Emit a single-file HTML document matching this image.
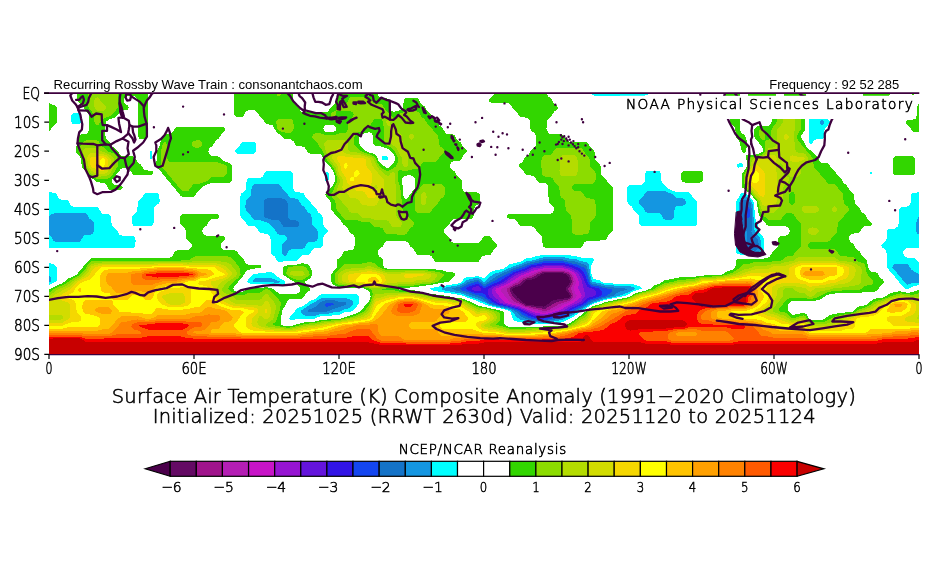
<!DOCTYPE html>
<html><head><meta charset="utf-8"><title>Surface Air Temperature Composite Anomaly</title>
<style>html,body{margin:0;padding:0;background:#fff;}.g{font-family:'DejaVu Sans',sans-serif;font-weight:200;stroke:#000;stroke-width:0.55px;}body{width:930px;height:580px;position:relative;overflow:hidden;}</style>
</head><body>
<svg xmlns="http://www.w3.org/2000/svg" width="930" height="580" viewBox="0 0 930 580" style="position:absolute;left:0;top:0">
<defs><clipPath id="mc"><rect x="49.0" y="93.2" width="870.0" height="261.2"/></clipPath></defs>
<g clip-path="url(#mc)" shape-rendering="crispEdges">
<path fill="#32d600" d="M77.2 93.2l70.4 0l0 40.9l0 1.7l-.9 2.2l-1.5 1l-4.5 .1l-1.5 -.6l-1.5 -2.7l-.2 -35.5l-1.3 -2.9l-1.6 -1.2l-1.5 -.5l-6 .2l-1.5 .9l-1.4 1.7l-.5 1.8l.4 1.8l1.2 1.8l2.4 1.7l1.3 1.8l-.8 1.8l-1.1 .7l-4.5 .3l-1.5 .5l-6 6.8l-6 2l-3 2.1l-.7 3.6l0 10.6l1.2 3.6l4 3.5l1.9 3.6l4.1 3.5l4.5 5.5l1.5 .5l10.5 .3l1.5 1l3.1 4.9l3 2.3l3 4.9l1.5 .9l6 .4l1.5 .6l.6 1.9l-.6 1l-1.5 1.1l-1.5 .1l-15.1 0l-1.5 -.5l-3 -4.9l-1.5 -1.2l-3 -.6l-3 0l-1.5 .5l-9.3 11.6l.3 1.7l1.5 2l1.5 .9l6 .4l1.5 1.3l.4 .8l-1 1.8l-2.4 .7l-9 0l-1.5 -.4l-1.5 -1.9l-1.5 -2.9l-1.5 -1.4l-1.5 -.5l-6 -.5l-2.2 -2l-6.1 -3.6l-3 -5.3l-3.2 -3.6l-.8 -1.7l-1.2 -8l-1.5 -2.4l-2.3 -2.1l-.9 -1.8l-.1 -1.7l1.3 -7.1l.2 -5.4l.6 -1.8l1.2 -1.1l6 -.5l1.5 -.6l1.4 -1.3l.9 -1.8l.4 -3.5l-.1 -10.7l-.4 -1.8l-4.3 -5.3l-2.4 -4.2l-3.6 -2.9l-1 -1.4l-.3 -7.5zM234.3 93.2l58.4 0l.1 7.1l1.1 2.9l4.5 4.2l2 3.6l2.5 1.5l1.5 0l22.6 -.2l7.5 -8.6l2.3 -3.4l.2 -7.1l28.4 0l1.8 1.8l1.9 .9l2.7 -.9l1.3 -1.8l4.2 0l.8 2.1l1.5 1.8l1.5 .7l6 .4l1.5 1.3l.7 2.6l.2 5.3l2.1 3.3l1.5 1.3l6 -1.4l3 -1.7l1.1 -1.5l.5 -7.1l1.4 -1.8l1.5 -.4l9 -.1l1.5 .2l1.5 1.1l2.7 4.6l3.3 2.6l2.6 4.5l3.5 2.7l2.4 4.4l3.6 2.8l2.4 4.3l3.6 3l3 4.9l1.5 .9l6 .5l1.5 .9l2.3 4l3.7 3.2l3 4.9l3.2 2.6l.3 1.7l-3.8 3.6l-2.7 4.5l-1.5 .9l-6 .5l-1.8 1.2l-1.1 1.8l-.3 1.8l.6 1.7l1.1 1.5l3 2.3l3 4.9l3 2.3l.9 1.5l.3 7.1l.5 1.8l1.3 1.8l1.5 1l1.5 .3l10.5 .2l1.5 .8l.9 1.2l.2 7.1l-1.1 2l-3.8 3.3l-1 3.6l-.1 5.3l-1.1 2.2l-1.5 .8l-1.5 .1l-13.5 0l-3.1 .5l-2.2 1.7l-2.2 4.1l-3.7 3l-.8 1.8l-.1 1.8l.7 1.8l4 3.5l2.9 4.8l3 1.2l22.5 0l1.5 -.4l1.5 -1l3 -4.9l1.6 -.8l4.5 0l1.5 .8l3 4.8l3.2 2.6l.5 1.8l-.7 1.1l-3.1 2.5l-2.9 4.8l-1.5 .7l-6.1 .6l-1.5 1l-3 4.9l-1.5 .8l-40.5 0l-1.5 -.5l-3 -4.9l-1.5 -1.2l-1.5 -.5l-10.6 -.1l-1.5 -.5l-3 -4.8l-4.2 -3.9l-1.9 -3.5l-2.9 -1.7l-18 .1l-2.3 1.6l-2.2 4l-3.7 3.1l-.8 1.2l-.6 2.3l.6 1.8l1.4 1.8l2.5 1.7l1.1 1.8l.2 5.4l.7 1.7l3.1 1.4l36 -.1l10.6 .6l7.5 .9l7.5 2l4.5 .2l1.5 1.1l.6 1l-.9 1.8l-2.7 2.1l-2.5 3.2l-2 .7l-6 .6l-12 2.6l-6.1 .2l-7.5 1.7l-15 .5l-3.1 .9l1.6 1l18 .9l7.5 2.2l16.6 2.5l6 .4l7 1.8l6.5 .5l8 3.1l10 4.7l19.3 4.2l5.4 1.8l.7 1.7l.3 10.7l1.7 1.8l2.7 .8l15 .2l39.2 -1l5.1 -1.8l6.8 -4.3l8.5 -6.4l3.8 -3.5l5.7 -3.8l6 -1.6l6.1 -2.5l24 -5l6 -3.7l11 -3l4.7 -1.7l3.8 -3.2l5.6 -2.2l5 -3.5l6 -.5l6 -1.7l18 -1l6 -1l19.6 -.6l2 -.6l4 -2.7l6 -2.1l2.7 -2.3l.7 -7.1l1.1 -.7l24 -.5l6 -1.1l2.5 -1.2l3.4 -5.4l4 -3.5l.7 -1.8l.4 -7.1l.8 -1.8l1.8 -1.1l4.5 -.1l1.8 -.6l1.9 -1.7l.8 -1.8l-.1 -1.8l-1.4 -2.4l-3 -1.4l-15.1 0l-3 -.8l-7.5 -9.2l-1.1 -2.2l-1.9 -12.4l-6 -7.4l-8.5 -6.8l-.4 -1.8l.3 -12.4l2.6 -3l2.5 -4.1l.1 -1.8l-.9 -5.4l.1 -3.5l1.2 -1l7.5 .4l3 -.7l4.5 -2.2l.5 -1.8l-.5 -2l-1.5 -2.5l-6.6 -8l-.7 -3.5l0 -3.6l.6 -1.8l2.2 -2l4.5 -1.4l6 1.2l1.5 -.4l2.4 -2.7l.8 -1.8l.1 -1.7l-.2 -5.4l-.7 -1.8l-1.7 -1.7l-2.2 -.8l-10.5 -.2l-1.6 -.8l-2.9 -4.8l-3 -2.2l-1.2 -1.9l-.2 -7.1l28.2 0l.1 7.1l1.2 1.8l2 .9l1.5 -.1l1.5 -.8l1.5 -1.8l.3 -7.1l22.1 0l0 12.4l-1 8.9l-.1 14.2l-.5 1.8l-3.6 5.3l0 1.8l3.7 5.4l1.7 3.5l1.4 1.8l4.5 3.3l5 5.6l2.5 4.4l1.5 1.2l1.5 .5l4.5 .1l1.5 .6l3 4.8l3.3 2.6l2.8 4.6l3.2 2.5l2.8 4.7l3 2.4l3 4.9l3 2.3l1.3 1.7l.4 7.1l1.3 3.3l3 2.4l3.1 5l2.9 2.2l3 4.9l3.9 3.5l0 1.8l-.9 1l-6 .6l-1.5 .6l-1.5 1.3l-1.9 3.6l-1.1 1.2l-6 .6l-1.5 .5l-1.5 1.3l-.9 1.7l-.2 1.8l1.1 2.3l3.6 3l2.4 4.3l3.5 2.8l2.5 4.4l3 2.3l1.5 1.8l1.9 7.5l1.7 3.6l.9 1l6 .7l1.5 1.7l1.5 3l3.1 2.5l1.2 1.7l-.7 1.8l-3.6 3.1l-2.3 4l-2.2 1.1l-10.5 .1l-4.5 1.5l-3 .3l-22.5 .1l-4.6 .6l-4.5 1.5l-4.7 3.7l-8.8 2l-10.5 -.6l-10.2 .4l-2.6 1.8l-.8 1.7l0 5.4l.9 1.8l2.2 2.5l1.5 .8l7.5 -1.7l4.5 -.2l1.5 .8l3 4.8l1.5 1.1l10.5 .2l3 -.9l4.5 -3.7l3 -1.1l7.6 -1.4l13.5 -1.2l4.5 -4.6l1.5 -.7l6 -1.1l1.5 -.7l6 -4.9l4.5 -1.5l6 -.6l3.8 -1.9l2.2 -1.9l3.1 -1.2l7.5 -1.4l7.5 1.4l3 -.2l9 -2.4l0 64.3l-870 0l0 -64.6l4.5 -2.7l8.7 -3.8l2.8 -1.8l3.5 -3.2l4.5 -1.7l3.8 -2.2l10.3 -12.4l4 -4l3 -.4l75.1 0l1.5 -.4l1.5 -1.1l2.9 -4.8l1.6 -.8l10.5 -.1l1.5 -.4l2.4 -2.2l.6 -1.8l-.2 -1.8l-1.3 -2l-3.7 -3.3l-.9 -8.9l-1.4 -2.3l-3.5 -3l-.7 -1.8l0 -5.3l1.2 -2.6l1.5 -.8l33.1 0l1.5 .1l1.5 .7l.6 .8l-.6 2.3l-1.5 .7l-6 .6l-2 1.7l-2.5 4.3l-3.5 2.8l-.8 1.8l-.1 1.8l1.4 2.6l3 1.5l15 .1l3 .7l.7 2.2l-3.7 3.4l-1.1 1.9l-.2 1.8l.6 1.8l1.6 1.8l2.1 .7l10.5 .2l1.5 .6l3 4.8l3.3 2.5l2.7 4.8l1.5 1.2l1.5 .4l10.6 .2l1.6 .6l.8 1.7l-.9 .6l-9.1 .9l-4.5 1.4l-1.5 1.3l-2.8 4.7l-9.1 10.7l-.9 1.8l1.2 1.7l2.6 1.5l6 -.2l4.4 -3l1.6 -.6l10.6 .2l7.5 -1.2l6.3 1.6l5.7 5l18 .1l2.3 -1.6l1 -1.8l.3 -1.7l-.7 -1.8l-5.8 -5.4l-6.1 -3.4l-4.9 -3.7l-.4 -3.5l.5 -3.6l1.8 -1.1l4.5 -1.3l7.5 -.4l6 -1.3l4.5 1.1l2 1.3l2 3.5l.9 5.3l-.6 1.8l-1.2 1.6l-5 3.7l-.1 1.8l1 1.8l2.5 1.8l1.3 1.8l-.5 1.7l-3.8 3.3l-3 4.5l-1.5 .5l-10.5 .1l-1.5 .6l-1.5 1.4l-5.3 9.2l-1.9 8.9l.2 5.3l2.5 1.8l7.5 .3l10.5 -3.4l7.5 -1.1l6.1 -.2l6 -1.8l18.3 -.9l13.2 -4l6.9 -3.1l2.3 -1.8l7.4 -9.2l1.5 -4.4l-.3 -2.4l-.8 -1.8l-1.7 -1.8l-2.9 -1.7l-1.9 -.5l-15 -.5l-9.6 -.8l-4.5 -1.8l-1.9 -1.8l-.9 -1.8l.1 -7.1l5.5 -7.1l.8 -7.8l4.5 -4.2l1.5 -3l1.5 -1.6l6 -.4l1.6 -.7l1.6 -1.8l.9 -3.6l0 -5.3l-1.1 -3.1l-4.4 -4l-1.8 -3.6l-4.2 -3.5l-2.5 -3.6l-9.3 -10.6l-.7 -1.8l-.6 -7.1l-4.5 -5.3l-.6 -1.8l7.6 -9.6l2.2 -4.6l-1 -7.1l-1.2 -2.8l-4.9 -6.1l-3.7 -3.6l-3.4 -6.4l-1.5 -.6l-10.6 -.2l-1.5 -1.4l-1.5 -3l-1.5 -1.8l-1.5 -.7l-6 -.4l-1.6 -1.5l-1.9 -3.5l-2.4 -1.8l-6.1 -.4l-3.2 -3.2l-5.2 -3.5l-3.6 -6.9l-1.5 -.7l-4.5 -.3l-1.5 -1l-1.9 -3.5l-4 -3.6l-1.9 -3.6l-1.7 -1.7l-2.5 -.9l-4.6 .1l-1.5 .5l-1.5 1.2l-3 4.8l-1.5 .6l-3 .1l-1.5 -.2l-1.4 -.9l-1 -1.8l-.1 -1.8l0 -19.5zM327.0 124.7l-1.5 .7l-1.5 1.5l-.6 1.8l.7 1.8l1.4 1.1l1.5 .7l6 -.1l2.8 -1.7l.7 -1.8l-.6 -1.7l-1.4 -1.5l-1.5 -.8l-6 0zM369.1 132.2l-6.1 1.7l-2.8 1.9l-.9 1.8l-.2 1.8l.1 3.6l.6 1.7l2.9 3.6l4.3 3.5l8.1 2.4l1.5 1.5l1.9 5l2.6 3.5l6 4l1.5 -.4l4 -3.5l2.4 -3.6l.5 -1.8l-1.2 -3.5l-2.7 -3.7l-4.5 -3.3l-6 -1.9l-6 -.5l-1.2 -1.3l-.6 -1.7l-.4 -7.2l-.8 -1.7l-1.5 -1.5l-1.5 -.4zM403.6 176.5l-1.5 1.9l-.5 1.9l1.4 7.1l.1 7.1l.5 1.9l1.5 2.4l1.5 .1l1.5 -1.2l1.7 -3.2l4.3 -5l1.2 -2.1l.1 -7.1l-1.3 -3l-1.5 -1.3l-1.5 -.5l-4.5 0l-3 1zM493.4 95.0l.6 -1.8l52.5 0l1.4 3l3 2.3l3 4.9l3 2.4l1.1 1.6l-.7 1.8l-3.4 2.8l-2.5 4.3l-3.5 2.9l-1.2 2.4l-.2 7.1l1.4 3.8l1.5 1.2l1.5 .6l10.5 .1l1.5 .5l3 4.7l1.5 1.3l1.5 .6l16.5 .1l1.5 .4l1 1l2 3.7l3.9 3.4l.8 1.7l.4 7.1l.7 1.8l3.9 3.6l1.1 1.8l.2 7.1l.6 1.7l1.4 1.8l2.5 1.8l3.4 5.3l2.5 1.8l1.3 1.8l.3 1.8l-.1 40.8l-.5 1.8l-4.1 3.5l-1.8 3.6l-1.4 1.5l-18.1 .4l-2.7 1.7l-1.9 3.5l-1.4 1.6l-1.5 .3l-34.5 -.1l-2 -1.8l-1.1 -9.2l-1.5 -2.2l-3 -2.3l-3 -4.9l-3 -1.2l-10.5 -.2l-1.5 -.9l-2.2 -4l-2.2 -1.7l-6.1 -.7l-1.7 -1.1l.2 -2.3l1.5 -1l1.5 -.1l40.6 -.3l2.2 -1.6l.9 -1.8l.2 -1.8l-.7 -1.8l-4 -3.5l-.9 -1.8l-.3 -14.2l-.6 -1.8l-1.3 -1.8l-1.5 -.8l-6.1 -.5l-.8 -.5l-3.6 -5.3l-1.6 -1l-6.6 -.8l-1.7 -1.7l-2 -3.6l-2.4 -1.8l-1.3 -1.7l.7 -1.8l2.8 -2.2l3 -4.9l3 -2.3l2.9 -4.8l3.1 -2.5l1.8 -2.9l.3 -5.3l-.4 -3.6l-1.7 -2.7l-3.1 -2.6l-.7 -1.8l-.4 -7.1l-.8 -1.7l-2.5 -2.2l-6 -.5l-1.5 -.9l-3 -4.9l-3 -2.3l-3 -4.9l-1.5 -1l-16.5 -.4l-2.8 -.7l-1 -1.8l.8 -1.3l3 -2.4l1.1 -1.6zM723.7 93.2l16 0l.1 35.5l1.2 3.6l4.1 3.5l1.1 2.2l1 5l-1 7.3l-1.5 3l-1.5 -.4l-1.5 -2.1l-2.3 -9.6l-2.9 -3.6l-.7 -1.8l-.4 -7.1l-.7 -1.7l-3.5 -3l-1.4 -2.4l-.3 -14.2l-1.3 -2.8l-3 -2.3l-1.4 -2l-.1 -7.1zM862.6 93.2l28 0l-1.2 1.8l-3.5 2.8l-1.5 3l-1.5 1.7l-4.5 .4l-13.5 -.2l-2.1 -2.4l-.2 -7.1zM911.1 93.2l3.7 0l-1.8 2l-1.9 -2zM49.0 103.9l0 -.8l6.2 2.5l1.5 1.8l.3 5.3l0 7.2l-.5 2.8l-4.4 4.3l-1.9 3.5l-1.2 1.1l0 -27.7zM918.6 103.9l.4 -.6l0 28.6l-6 -.3l-1.3 -1.1l-1.8 -3.5l-4 -3.6l-.3 -1.8l1.4 -1.5l6 -.4l2.5 -1.6l1.4 -3.6l.2 -7.1l1.5 -3.5zM174.5 128.7l2.2 -1.5l1.5 -.1l43.6 0l1.5 .1l1.5 .7l.6 .8l-.1 1.8l-3.5 3l-3 4.9l-3 2.3l-3 4.9l-3.3 2.7l-.9 1.8l-.2 1.7l.7 1.8l2.2 2l6 .6l1.5 .6l4.1 3.9l6.4 2.2l1.8 1.4l1 1.8l.2 1.7l0 10.7l-.2 1.8l-1.3 1.7l-1.5 .6l-15 .1l-3 .4l-6 1.9l-1.5 1l-3 3.2l-3 2.2l-3 4.9l-1.6 .8l-9 .1l-3 -.8l-21 -25.6l-3.2 -3l-1 -1.7l.8 -7.2l.1 -7.1l.4 -1.7l2.6 -5.4l1.8 -7.5l1.5 -2.2l1.5 -.6l6 -.6l1.9 -1.5l1.9 -3.6zM893.9 157.2l1.1 -.9l1.5 -.2l16.5 .3l1.8 2.5l.2 12.5l-.5 2.2l-1.5 1.6l-1.5 .2l-15 0l-2 -.5l-1.4 -1.7l-.2 -1.8l.1 -12.5l.9 -1.7zM682.7 171.4l1.9 -.7l16.5 .1l1.5 1.1l.7 1.3l0 7.1l-1.4 1.7l-2.3 .7l-13.5 0l-3 -.4l-1.6 -2l-.1 -1.8l.1 -5.3l1.2 -1.8z"/>
<path fill="#8cdc00" d="M88.3 93.2l30.2 0l-.3 14.2l-5.9 7.1l-3.1 1.8l-5.2 1.8l-2.2 1.8l-3.2 4.9l-1.5 .6l-1.5 -1.1l-1.2 -2.7l-.2 -5.3l-.4 -1.8l-5.3 -7.1l-.2 -14.2zM275.7 93.2l5.8 0l-1.1 2.1l-1.5 1l-1.5 -.5l-1.7 -2.6zM349.2 98.5l1.8 -1.5l10.5 -.2l9.1 2.8l1.2 .7l1.8 2.4l1.5 1.1l6 .4l1.5 .9l3 4.7l7.5 8.1l1.5 -.3l3 -3.1l7.5 -2.7l3 -.5l9 .2l2.1 1.2l2.4 4.1l3.5 3.1l2.6 4.2l3.3 2.9l2.7 4.3l3.2 2.8l1.3 1.7l.9 8.9l1.2 1.8l2.4 1.8l1.3 1.8l.2 1.7l-1 1.8l-3.5 3.1l-3 4.6l-1.5 .7l-10.6 .2l-1.5 .3l-1.5 1.4l-2.3 3.9l-2.2 1.5l-4.5 .1l-7.5 1.7l-6 -1.2l-.8 1.5l-.3 8.9l2.4 7.1l.4 8.9l1.6 7.1l.1 5.3l1.1 2.6l3.2 2.7l2.8 4.5l3.1 2.6l1.2 1.8l0 1.8l-1.2 1.8l-3.1 2.6l-2.8 4.5l-1.7 1l-18 -.2l-1.5 -1.2l-3.3 -5l-1.2 -.6l-6 -.4l-4.4 -4.3l-1.6 -.7l-6.1 -.2l-6 -1.7l-10.5 -.1l-1.5 -.4l-7.8 -9.3l-1 -1.8l-.8 -7.1l-4 -5.3l-.7 -1.8l2.3 -3.6l4.5 -10.6l-2.3 -8.9l-2.2 -4.1l-6.9 -8.4l-5.1 -10.8l-1.6 -1.6l-2.9 -4.8l-3 -2.5l-1.1 -1.6l0 -1.8l1.1 -1.6l1.5 -.9l4.5 -.2l7.5 2.2l6 0l3 -.6l3 -1.4l6 -.4l1.5 -1l1.5 -3.2l.4 -7.1l1.1 -1.7l3.8 -3.6l.4 -1.8l-.9 -1.8l-1.8 -1.2l-1.5 -.2l-13.5 -.2l-.1 3.4l-.7 1.8l-2.2 1.9l-2.2 -1.9l-.1 -1.8l2.3 -2.8l3 -.7l.6 -3.6l2.4 -2.9l6.1 -.6l2.1 -1.8l2 -3.6zM375.1 118.9l-1.5 1.1l-3 4.8l-4.3 3.9l-2.6 1.8l-5.4 1.8l-2.8 2.1l-1.3 3.2l.3 7.1l1.2 1.8l3.5 3.6l3.2 1.7l9.8 3.6l2.9 1.7l2.3 5.4l2.2 3.2l3 2.9l4.5 2.6l1.5 -.4l7.5 -4.4l1.5 -3.8l.5 -3.7l-2 -5.3l-2.2 -3.5l-3.8 -3.1l-4 -2.3l-1.6 -1.7l-.2 -12.5l-1.7 -8.9l-.8 -1.7l-.7 -1l-1.5 -.3l-4.5 .3zM783.1 105.6l3.7 -1.4l4.5 0l1.5 .4l7.5 8.8l.9 2.9l0 10.7l-.2 1.7l-3.9 7.1l0 1.8l.6 1.8l4.9 7.1l6.7 6.9l2.7 3.8l1 1.7l.8 7.8l1.5 2l3 2.5l2.1 3.7l3.9 3.5l3 4.7l1.5 .7l6.1 .5l1.5 1.3l3 4.7l2.9 2.4l.9 1.8l.4 7.1l.6 1.8l3.8 3.5l1 1.8l-.6 2.4l-3.3 2.9l-2.7 4.5l-3.2 2.6l-1.3 1.8l-.9 8.9l-1.2 1.8l-3.8 3.5l-2.1 3.6l-2.6 1.2l-16.5 .1l-1.5 .7l-1.3 1.5l-.2 2.2l1.5 2l1.5 .7l22.6 .1l1.5 .4l1.5 1.3l2.8 4l1.7 1.3l12 .6l3.3 3.4l2.7 1.6l4.5 1.4l1.5 1.6l1.9 7.9l1.1 2.6l1.5 2l3 2.4l.9 1.8l-.5 1.8l-1.9 1.9l-6 .5l-3.1 3l-2.9 1.6l-24 .3l-9.1 2.3l-9 4.6l-6 1.8l-7.5 -1.5l-10.5 -.1l-3 .5l-2.7 1.1l-1.8 1.7l-7 9l2 1.8l5 .8l1.5 .9l4.5 4.4l1.5 .4l10.5 -3l1.5 .3l4.5 5.5l1.5 1l12 0l4.4 -1.5l4.6 -2.7l4.6 -1.9l6 -1.3l10.5 -1.4l2.9 -1.5l3.1 -2.4l6 -1.8l4.5 -2.1l6 -4.4l7.5 -1.7l12.1 -4.7l6 -1.3l12 1.4l6 -1.6l0 61.2l-870 0l0 -61.5l5.4 -4.2l11.1 -4.8l5.6 -4.1l9.5 -5.4l4.5 -5.2l3.4 -5.4l2.6 -2.3l1.5 -.3l12 -.5l82.6 -.2l2 -.3l4 -3.2l1.6 -.5l33 0l3 .4l7.5 8.7l1.6 3.5l.7 5.3l-2.4 3.6l-6.3 5.3l-2.8 3.6l-1 1.8l1.3 1.7l5.9 3.9l1.5 .6l3 .1l4.5 -.4l4.5 -1.7l10.6 -.3l1.5 -.6l3 -2.3l3 -.9l3.5 1.6l9.6 10.7l1.1 1.8l-1.7 8.9l-3.1 8.8l-1.9 2.3l-2.1 1.3l2.1 1.2l12 2.2l4.5 -.1l15 -3.8l9.1 -.6l6 -1.7l19.5 -1.7l10.7 -2.6l5.2 -1.8l6.6 -3.3l2.2 -2l3.9 -4.7l3 -7.8l.5 -3.5l-.4 -3.6l-2.9 -1.7l-6.3 -1.8l-13.5 -.6l-10.5 -1.4l-2.9 -1.6l-1.4 -1.8l.1 -7.1l2.7 -3.7l7.5 -6.8l16.5 -.2l7.6 -1.7l3 .4l3 1.2l4.1 3.7l7.9 3.1l36 -.4l10.6 1.1l6.6 1.6l3.5 1.7l0 1.8l-5.6 5.3l-9 2.5l-6.1 .1l-12 1.8l-12 .1l-6 2.1l-10.5 .6l-.9 1.7l3.9 -.8l6 0l7.5 2l16.5 .5l13.6 3.2l6 .4l6 1.2l6 .2l6 1.7l7.5 .6l7.5 3.1l9 4.8l7.6 .8l13.7 3.7l1.4 1.7l.5 5.4l-.6 1.8l-1.4 1.7l-2.4 1.8l.8 .9l6 1.4l6 2l15 .1l37.6 -1.5l5.9 -1.1l4.2 -1.8l9.4 -7l3 -1.7l4.9 -5.5l4.1 -2.7l6 -1.6l6.1 -2.5l24 -5l7.5 -4.1l16.5 -4.7l12.1 -6.6l6 -.5l6 -1.8l6 -.3l6 -1.4l6 -.2l6 -1.7l19.6 -.7l7.1 -1.8l4.9 -1.8l7.7 -5.3l2.8 -3.1l1.5 -.4l4.5 -.2l6 -1.6l12 -.1l13.6 -1.1l1.4 -.6l3.1 -3.1l1.5 -.6l4.5 -.2l1.5 -.8l3.1 -4.2l4.4 -4.2l.6 -1.1l.3 -3.5l0 -16l-.5 -3.6l-4.9 -5.1l-2.3 -3.8l-2.2 -1l-4.5 0l-1.5 .6l-4.3 5.8l-1.7 .7l-9.1 .1l-1.5 -.2l-1.5 -1l-6 -5.4l-.8 -1.3l-1.1 -3.6l-1.1 -7.1l-1.2 -1.8l-6.3 -7.4l-5.7 -5l-.4 -1.8l-.4 -7.1l.4 -5.3l4.2 -7.1l.4 -7.8l1.5 -1.3l6 -.9l4.5 -1.4l2 -1.1l1.6 -1.8l.5 -3.5l-.4 -7.1l.8 -.8l3 -.7l1.5 -1.7l.7 -2.2l.2 -5.3l.8 -1.8l5 -7.1l.2 -12.4l.6 -1.8l5.4 -1.8zM791.3 191.9l-1.9 2.6l-.2 7.1l.6 1.8l1.5 1.5l1.5 .1l1.5 -1.4l.7 -2l.1 -5.3l-.2 -1.8l-1.1 -1.8l-1 -.9l-1.5 .1zM277.1 119.9l1.8 -1.2l3 -.1l7.5 0l1.5 .3l1.3 1l1.1 1.7l.4 3.6l-.1 3.5l-1.2 2.9l-1.5 1.2l-4.5 .3l-7.5 -2.4l-1.4 -2l-1.2 -5.3l-.2 -1.8l1 -1.7zM760.9 128.7l2.1 0l1.7 1.8l.2 8.9l-.7 .9l-1.5 -.2l-1.5 -1l-2.1 -3.3l0 -5.3l1.8 -1.8zM84.2 141.2l2.4 -.8l10.5 .1l1.5 .8l3.9 5.2l3.6 3.6l2.5 1.7l5.2 1.8l3.4 3.6l1 1.7l.3 1.8l-.1 3.6l-.5 1.8l-5.3 8.8l-3.5 3.4l-6 .8l-6 -.3l-6 -2.9l-1.5 -1.4l-5.3 -8.4l-2.2 -9.5l-3.4 -4.8l-.2 -1.7l.6 -1.8l5.1 -7.1zM193.0 141.2l3.3 -.8l3 0l1.5 .6l1.6 2l.1 1.7l-1.1 1.8l-2.1 1l-4.5 0l-1.6 -.5l-1.7 -2.3l.1 -1.7l1.4 -1.8zM163.1 143.0l1.6 -1.6l1.5 1.6l.5 1.7l.4 14.2l2.1 2.7l3 .5l45.1 .1l7.5 2.6l2 1.3l.4 1.7l-.2 5.4l-.9 1.7l-1.3 1.2l-1.5 .5l-10.5 .1l-1.5 .6l-2.6 3l-1.9 1l-7.5 2.5l-4.5 .2l-1.6 .5l-4.5 6l-1.5 .6l-4.5 -.1l-2.2 -1.8l-19.2 -23.1l-.5 -3.6l.1 -10.7l2.2 -8.8zM743.2 143.0l0 1.7l0 -1.7zM555.8 148.3l2.6 -.7l22.5 .3l1.5 1.2l2.8 4.5l3.8 3.6l.6 1.7l.4 7.2l1.4 2.3l3 2.4l1.2 2.4l0 7.1l-1.2 2.2l-1.5 1.1l-18 .4l-2.2 1.6l-.8 1.8l1.5 2.8l1.5 .8l6 .5l1.6 1.2l2.9 4.7l1.5 .9l6 .4l1.5 1.1l1.1 1.8l.2 14.2l-1.3 2.9l-3 2.5l-1.2 1.7l-.9 8.9l-.9 1.4l-1.5 1.2l-10.5 .3l-1.5 -.1l-1.6 -1l-1.3 -1.8l-.3 -1.8l-.2 -12.4l-.3 -1.8l-1.2 -1.8l-3.8 -3.5l-.6 -1.8l-.3 -7.1l-1.1 -1.8l-2.8 -2.3l-1.5 -2.3l-.6 -7.8l-.9 -1.8l-3.9 -3.6l-2 -3.5l-1.6 -1.5l-6 -.5l-1.5 -.7l-1.8 -2.6l-.2 -12.5l.7 -3.5l1.3 -1.5l1.5 -.7l6 -.5l1.5 -1.3l1.7 -3.1l1.7 -1.8zM421.7 185.6l1.4 -1.3l1.5 -.4l16.6 .1l1.5 .7l1.8 2.7l.1 7.1l-.7 1.8l-3.9 3.5l-2 3.6l-3.9 3.5l-3.4 5.2l-1.5 .7l-9.1 .1l-3 -.4l-1.5 -1.3l-1 -2.5l0 -12.4l.5 -1.8l6.6 -8.9zM288.4 267.3l2.5 -.7l12 -.5l2.6 1.2l1.9 2.1l1.5 2.3l.7 2.7l-1.4 1.8l-5.3 3.5l-6 .2l-6 -2.2l-2.5 -1.5l-1.8 -1.8l-.2 -1.7l.7 -3.6l1.3 -1.8z"/>
<path fill="#b4dc00" d="M95.4 98.5l1.7 -1.2l1.5 .6l3 4.6l3.6 3.1l.8 1.8l-.5 1.8l-.9 1.1l-1.5 .9l-4.5 .1l-1.5 -.5l-1.5 -1.6l-1.1 -1.8l-.2 -1.8l.2 -5.3l.9 -1.8zM784.5 112.7l2.3 -1.3l4.5 .1l1.5 .8l1.8 2.2l.5 1.8l0 10.7l-1.4 10.6l1.4 7.1l.2 5.4l1 1.7l1 .6l1.5 .5l4.5 .2l1.5 .6l3 3.3l.7 1.9l-.4 1.8l-1.2 1.8l-5.4 3.6l-.5 7.1l-.9 1.7l-1.3 1.2l-1.5 .5l-7.5 0l-1.6 -5.2l-1.4 -1.4l-3 -.6l-1.6 -5.1l-1.4 -1.2l-1.5 1.2l-.4 1.8l.4 1.1l1.5 1.8l2.3 .6l.2 3.6l.9 1.7l1.1 1l1.5 .6l2.3 .2l-.1 3.6l-.9 1.7l-3.9 3.6l-.9 1.8l-.3 14.2l-.7 1.8l-7.5 8.9l-1.6 .5l-4.5 0l-6 -1.8l-.4 -.5l-1.2 -1.8l-1.5 -7.1l-.9 -1.8l-3.5 -3.5l-3 -4.4l-5.2 -4.5l-.6 -1.8l-.8 -5.3l.3 -5.4l1.2 -3.5l3.4 -5.3l1.2 -5.4l1.3 -1.8l11.2 -3.8l1.6 -1.5l2.9 -5.6l4.5 -.5l1.6 -.5l1.5 -1.7l.7 -2.3l.1 -12.5l.7 -1.8l4.6 -5.3l.6 -1.8l.4 -7.1l1.1 -1.8zM386.9 119.9l.2 -.3l1.5 .7l1 1.3l.7 3.6l4.3 1.6l3 4.7l3.1 2.6l1.2 1.7l1 8.9l1.2 1.8l3.7 3.6l.6 1.7l0 12.5l-.7 1.8l-1.1 .7l-1.5 .3l-1.9 -1l-.7 -1.8l-.2 -5.4l-.6 -1.7l-2.6 -3.6l-3 -6.3l-4.1 -2.6l-1.4 -1.7l-.2 -16l-.3 -1.2l-1.5 -.1l-1.5 -.9l-.9 -3.2l.7 -1.7zM410.5 134.1l.6 -.5l1.5 .5l1.3 1.7l0 1.8l-1.3 1.8l-1.5 .4l-2 -2.2l0 -1.8l1.4 -1.7zM325.9 141.2l1.1 -.7l1.5 -.1l16.5 .1l1.5 1.1l1 1.4l.5 1.7l.3 5.4l1.7 1.7l7 .6l6 1.6l8.6 3.2l2 1.7l2.3 5.4l2.2 3.6l1.5 1.8l7.5 6.2l1.5 -.3l2.1 -2.4l2.4 -1.4l1.5 1.2l.5 9l1.3 7.2l.1 26.6l1.1 2.8l3.1 2.5l1.1 1.8l0 1.8l-1.2 1.8l-1.5 .8l-1.5 .1l-4.5 -.3l-1.5 -1.2l-3 -4.7l-1.5 -.9l-10.5 -.1l-6 -1.7l-7.6 -.4l-1.5 -.8l-3 -3.3l-1.5 -.9l-6 -.4l-1.5 -1.1l-2.9 -4.7l-3.1 -2.5l-2.8 -4.6l-3.2 -3.3l-1.1 -2l1.3 -7.1l2.2 -5.4l.3 -1.7l-2.7 -5.4l-1.8 -7.1l-1.2 -2l-5.4 -6.9l-3.3 -7.1l-1.5 -7.1l.2 -1.7l1.4 -1.8zM84.9 148.3l1.7 -.6l10.5 .2l3 2.5l10.5 5l2.3 1.8l.9 1.7l-.1 7.2l-3 7.1l-1.6 1.6l-4.5 1.6l-6 .2l-3 -.8l-4.5 -2.2l-4.5 -7.5l-1.5 -4.9l-2.1 -9.4l.4 -1.7l1.5 -1.8zM562.1 155.4l2.3 -.5l9 0l1.8 .5l1.7 1.8l.7 3.5l-.1 12.5l-1.1 1.9l-1.5 1.2l-12 .2l-2.3 -1.6l-.9 -1.7l-.2 -1.8l.1 -12.5l.7 -1.7l1.8 -1.8zM422.5 192.7l.6 -.7l1.5 .1l1.6 1.9l.4 2.3l-.4 6.4l-1.6 2l-1.5 .4l-1.5 -1.2l-.9 -2.3l-.1 -5.3l.4 -1.8l1.5 -1.8zM802.7 206.9l2.1 -1.1l10.5 -.1l1.5 .4l1.5 1.6l.5 1l-.2 1.8l-1.5 1.8l-1.8 .6l-10.5 -.1l-1.5 -.6l-1.4 -1.7l-.2 -1.8l1 -1.8zM833.0 206.9l1.9 -.7l1.5 1.3l.6 1.2l-.3 1.8l-1.8 1.9l-1.5 -.4l-1.3 -1.5l-.2 -1.8l1.1 -1.8zM809.2 228.2l3.1 -.8l4.5 .5l1.9 2.1l.1 1.8l-2 2.4l-1.5 .4l-4.5 0l-1.9 -1l-1.1 -1.8l.1 -1.8l1.3 -1.8zM798.7 256.7l34.7 -.2l6 4l13.5 1.7l8.3 5.1l.4 1.8l-.2 12.4l-2.5 3.3l-1.5 .6l-4.5 .2l-6 1.6l-12 .7l-6.1 2l-10.5 1.9l-1.5 .7l-3.4 3.3l-2.6 1.1l-1.5 -.1l-2.2 -1l-2.3 -2.2l-1.5 -.7l-4.5 -.3l-1.5 -.6l-4.5 -3.6l-4.5 -.4l-3 .4l-2.1 2l-.3 5.4l-.9 1.7l-7.2 8.9l-2.4 3.6l1.2 1.8l5.7 2.4l6 1.8l3.7 2.9l2.3 1l3 0l9 -2.4l1.5 .5l4.5 5.2l1.5 1l13.5 0l4.5 -1l7.8 -4.3l4.2 -1.8l13.6 -3l4.5 -2.4l10.5 -3.9l7.5 -5.2l6 -1.6l6 -2.5l4.6 -1.4l7.5 -1.8l6.3 .5l5.7 1.6l6 -.7l0 57.7l-870 0l0 -58l7 -6l11 -4.9l7.8 -5.7l7.3 -4.1l3.2 -3l3 -5.4l2.8 -3.2l4.5 -1.1l9 -.7l45.1 0l10.5 -.4l27 .3l9.1 -1.4l19.5 .2l7.5 .7l4.5 1l3 1.8l3.9 4.6l2.1 3.1l.6 2.2l-2.1 2.5l-7.2 4.6l-2 1.8l-4.2 5.4l.5 1.7l2.4 2.6l6 2.1l6 4.7l1.5 .2l21.1 -.1l1.5 -.6l4.5 -5.1l1.5 -.6l6.6 7.5l2 3.5l0 5.4l-2.1 8.9l-2 1.7l-5.8 3.6l.8 1.8l5 1.3l7.5 .4l6 1l6 0l18 -3.9l6.1 -.2l9 -2.1l15 -1.5l17.9 -3.9l6.1 -2.6l3 -2.1l2.3 -2.4l2.3 -3.9l4.5 -12l1.5 -.6l4.5 .9l6 -1.6l4.5 -.1l21 .5l4.5 .7l12.1 3l6 .4l6 1.1l6 .2l6 1.5l7.5 .6l5 2.2l11.5 6.4l1.5 .3l4.5 -.4l3.1 .5l7.1 2.1l1.9 1.5l1.8 3.8l-.2 1.8l-1.6 1.9l-4.8 3.4l-.3 1.8l5.1 1.3l6 .7l7.5 2.2l15 0l9 -.8l28.6 -1.4l7.5 -1.4l5.8 -2.4l6.2 -4.8l4.5 -2.2l1.5 -1.6l1.9 -3.8l1.6 -1.8l2.5 -1.7l6 -1.4l6.1 -2.4l10.5 -2.7l13.5 -2.6l6 -3.3l3 -1.2l16.3 -4.3l10.8 -5.7l6 -.7l6 -1.5l6 -.3l6 -1.4l6 -.3l6 -2.4l18.1 -.7l13.5 -2.6l4.5 -1.7l6 -3.5l7.5 -1.5l4.5 -2.2l12 -.4l6 -1.6l7.6 -.4l6 -1.7l6 -.9l1.5 -.7l4.4 -3.5zM365.6 267.3l3.5 -1.5l16.5 5.8l3 .6l10.5 -.1l7.5 -.8l18 .1l7.5 1.3l4.6 1.5l.6 .2l-.1 1.8l-2.8 3.6l-2.4 1.7l-1.3 .5l-12.1 .7l-7.5 1.5l-12 .1l-6 1.1l-6 .3l-12 2.9l-12.1 -2.8l-7.5 -.2l-10.5 -1.4l-4.5 -1l-2.7 -1.7l-.3 -3.5l.4 -3.6l1.5 -1.7l5.6 -3.4l6 -.8l12 -.4l2.6 -.8zM290.1 272.7l.8 -1.3l1.5 -.4l9 0l1.5 .5l1.2 1.2l.8 1.7l-2.8 1.8l-5.2 .1l-6 -1.1l-1 -.8l.2 -1.7z"/>
<path fill="#d2dc00" d="M785.0 134.1l1.8 -.3l1.7 2l0 1.8l-1.7 2.1l-1.5 -.1l-1.6 -2l0 -1.8l1.3 -1.7zM338.4 148.3l.6 -.3l1.5 .8l2.6 3l3.4 1.8l4.5 1.2l6 .1l6 .9l4.1 1.4l3.2 1.7l2.3 7.2l7 9.1l3.2 3.3l1.3 1.8l.2 1.7l-.1 5.4l-.8 1.8l-3.2 3.5l-1.8 8.9l-1.8 3l-1.5 .9l-1.5 .2l-10.6 -.3l-1.5 -1.1l-2.7 -4.5l-1.8 -1.2l-6 -.4l-1.5 -1.1l-2.7 -4.4l-3.9 -3.5l-.6 -1.8l1 -7.1l-1.3 -2.5l-3 -3.5l-1.5 -8.2l-1.5 -2.7l-3.8 -4.5l-.3 -1.7l1.1 -2.4l4.5 -6l.9 -.5zM375.1 184.9l-.9 2.5l.9 1.3l1.5 .1l1.3 -1.4l-1.3 -2.4l-1.5 -.1zM89.9 153.6l1.2 -.4l4.5 -.2l7.5 1l3 1.2l3.1 2l1.5 1.7l.2 5.4l-.9 3.5l-2.4 4l-1.8 1.4l-2.7 .9l-4.5 0l-3.5 -.9l-4 -2.8l-2.5 -4.3l-1.6 -7.2l.9 -3.5l2 -1.8zM768.4 155.4l3.3 -.5l3.1 .6l1.5 1.7l.4 1.7l-1.2 7.2l1.5 8.8l0 24.9l-.2 1.8l-1 1.8l-2.6 2.1l-9 .2l-1.5 -.6l-3.2 -7.1l-4 -3.5l-2 -3.6l-4.4 -3.5l-1.5 -3.6l-.6 -5.3l.7 -5.3l4.5 -6.5l3 -5.6l4.1 -2.2l6.4 -1.9l2.7 -1.6zM792.8 155.4l4.5 1.2l6 .3l1.6 2l-1.6 1.3l-4.5 1.5l-6 .3l-2.3 -1.3l-1 -1.8l.4 -1.7l1.4 -1.6l1.5 -.2zM796.4 262.0l2.4 -.8l6 -.3l30.1 .2l6 1.7l7.5 1.3l4.5 1.7l2.2 1.5l.5 1.8l-.2 5.3l-1 2.2l-4.7 4.9l-2.8 1.9l-6 .3l-13.6 3.7l-10.5 .6l-2.1 .7l-3.9 3l-1.5 -.3l-4.5 -3.6l-6 -.6l-6 -1.6l-6 -.1l-5.8 1.4l-3.1 1.8l-.8 1.7l-.2 5.4l-6.2 10.6l-3.8 3.6l0 1.8l3.3 1.7l4.6 1.3l16.5 6.7l3 0l9 -1.7l1.5 .6l4.5 5l1.5 1l16.5 .1l2.6 -.5l5 -2.4l4.5 -1.3l3.9 -3.4l2.1 -.9l7.5 -1.9l6 -2.5l9 -2.7l4.5 -2.1l5.8 -4.2l10.7 -4.7l6.1 -1.8l6 -1l6.5 .4l5.5 2.4l6 1.2l0 13.7l-1.9 2.3l.4 1.8l1.5 .8l0 34.7l-870 0l0 -34.6l12 -.2l1.4 -.7l.9 -1.8l-.8 -1.3l-1.5 -1.1l-12 -.2l0 -13.4l2.6 -1.8l2.3 -3.5l2.1 -1.8l13.1 -7.1l2.4 -1.7l3.8 -3.7l9.8 -5.6l2.9 -3.2l3.1 -6l3 -1.4l7.5 -1.4l49.6 -.2l9 -.6l21 0l7.5 .5l6.1 -.8l16.5 0l6 .7l6 1.6l4.5 2.7l3.9 4.9l.8 1.7l-4.7 4.1l-5.6 3l-3.8 3.6l-1 1.8l-.4 1.8l.3 1.7l1.5 2.9l2.1 2.5l2.4 1.7l6 2.1l3.7 3.3l3.8 1.3l18.1 .6l6 1.6l4.5 -4.9l1.5 -.6l1.5 1.4l1.4 2.3l.9 3.6l.2 3.6l-1.1 5.3l-1.8 1.8l-1.1 .6l-1.5 -.1l-4.5 -3.9l-1.5 .9l-1.7 2.5l-.3 3.5l.3 1.8l1.6 1.8l9.1 2.4l16.5 1.4l7.5 -.2l16.5 -3.2l6.1 -.4l10.5 -2.3l13.5 -1.7l17.1 -3.1l6.9 -2l5.3 -3.4l2.3 -3.5l4.5 -11l1.5 -1l4.5 -.5l6 -2.2l12 -.9l10.5 0l6 .7l13.6 3.3l12 1.5l6 .1l6 1.5l7.5 .6l16.5 9.4l1.5 .2l4.5 -1l1.6 .1l3.4 1l4.1 2.9l1.5 2.4l-.3 1.8l-2.7 2.4l-5.5 2.9l-1.2 1.8l.7 .4l3.5 1.3l13 2.1l6 1.7l16.5 .2l9 -1l30.1 -2l10.5 -2.5l4.2 -2l3.3 -2.4l6 -2.9l1.5 -2.3l2 -4.8l2.5 -2.3l6 -1.5l18.1 -5.7l12 -2.1l10.5 -4.8l16.5 -4.3l10.6 -4.9l10.5 -2.1l6 -.5l6 -1.2l6 -.3l6 -2.8l18.1 -.9l13.6 -2.2l7.6 -1.8l5.8 -2.5l9 -2.4l12 -.4l6 -2.6l12.1 -.9l11.1 -3.6zM367.3 269.1l1.8 -.4l1.5 .3l18 5l10.5 -.1l7.5 -1.3l16.7 .1l7.6 1.7l.2 1.8l-1.9 2.2l-4.2 1.4l-7.9 .4l-2.8 1.3l-3.2 .9l-12 0l-10.5 .5l-5.9 2.2l-7.6 2.1l-12.1 -2.5l-6 -.1l-8.5 -1.3l-5.6 -1.8l-.9 -1.7l.1 -3.6l.6 -1.8l2.7 -1.7l5.6 -1.7l6 -.1l10.3 -1.8z"/>
<path fill="#f5d700" d="M338.9 155.4l10.6 1.9l13.5 .7l2.4 .9l.8 1.8l.2 5.4l1 1.7l4.6 5.4l.1 7.1l-1.3 7.1l1.3 3.5l4.1 3.6l-.2 1.8l-.9 1.7l-1.5 .4l-4.5 -.2l-1.6 -1.2l-3 -4.8l-1.5 -.9l-6 -.4l-1.5 -1.1l-1.7 -2.4l-5.8 -3.6l-2.8 -7.1l-3.7 -5.3l-1.4 -7.1l-3.2 -5.4l.3 -1.7l1.7 -1.8zM91.2 157.2l11.9 -1.2l2.7 1.2l1.8 1.7l.3 1.8l-.3 5.4l-1 1.7l-2 2.3l-1.5 .8l-3 -.4l-7.5 -2.8l-1.5 -1.1l-.7 -2.3l-.3 -5.4l1.1 -1.7zM754.9 166.1l1.8 -1.6l1.5 .7l5.8 6.2l.8 1.8l0 21.3l-.7 1.8l-1.4 1l-3.5 -2.8l-5.5 -6.6l-3 -2l-1.5 -2l-.6 -1.9l-.3 -3.5l.9 -5l3.5 -3.9l2.2 -3.5zM798.2 263.8l6.6 -1l30.1 .2l9.7 2.6l4.3 1.7l.6 1.8l-.2 5.3l-2.4 3.3l-1.5 1l-4.5 1.4l-6 2.7l-6.1 .8l-6 1.7l-7.5 .4l-4.5 1.2l-1.5 -.3l-4.5 -2.5l-1.5 -.4l-13.5 -.9l-6 .2l-7.5 1.5l-3.1 1.9l-1.6 2.3l.7 7.1l-2.6 7.1l-2.5 2.9l-6.2 4.2l-.3 1.8l6.5 4l7.6 1.5l6 2.9l7.5 2.3l4.5 .6l10.5 -1l1.5 .6l4.5 5.2l1.5 .9l18 .1l6.1 -1.6l6 -.4l1.7 -.9l7.3 -7.1l9 -3.4l7.5 -1.4l4.5 -1.5l10.5 -6.4l4.6 -3.3l4.5 -2.1l4.5 -1.4l6 -.8l6 .6l7 3.7l1.7 1.7l.2 5.4l-1.4 2.6l-1.5 1.7l-1.5 .9l-5.5 1.9l-1.3 1.8l.8 1.7l1.5 1l6 .3l6 1.6l0 30.9l-870 0l0 -30.9l12 -.1l7.8 -4.5l1.2 -1.8l0 -12.5l-1.5 -1.9l-6 -2l-2.3 -1.4l-1.3 -1.8l.6 -1.7l12 -7.3l7 -7l9.6 -4.9l1.8 -2.2l2.7 -4.9l2.4 -2.2l8.1 -2.1l46.6 0l10.5 -.9l21 0l7.5 .8l6.1 -.5l15 0l4.5 .5l4.5 1.3l6 3.3l2.8 3l.6 1.7l-1.2 1.8l-2.2 1.6l-7.5 2.4l-6.5 1.3l-.2 1.8l2.2 3.2l2.9 7.5l1.6 3l1.5 1.5l4.5 2.7l9 4.2l4.5 .9l16.6 1l3 .9l1.7 1.8l.2 1.8l-1.9 2.8l-3.3 2.5l-1.5 1.8l-.1 5.3l1 1.8l2.4 1.3l7.5 2.1l9 1l13.5 .6l10.5 -.4l7.5 -1.6l13.6 -1.7l13.6 -3.1l20.9 -3.1l11.8 -2.2l5 -1.8l2 -1.8l2.3 -4l3 -8.6l1.5 -1.4l10.5 -3.6l6 -.5l6 -1.4l10.5 -.1l7.5 1.1l13.6 3.3l9 1.2l7.5 .2l7.5 1.6l4.5 .2l3 1.3l4.5 3.1l4.8 2.3l5.7 4.1l1.5 0l4.5 -1.5l3.1 .7l2.7 2l1.5 1.8l-.2 1.8l-2.5 1.9l-6.9 3.4l-.4 1.8l1.7 1.7l2.6 1.4l12 1.5l12 2.4l15 .1l37.6 -3.4l10.5 -2l5.4 -1.7l9.6 -4.6l3 -4l2.2 -5.6l2.3 -1.5l16.6 -4.5l6 -2.3l13.5 -2.8l10.5 -4.6l15 -3.7l10.6 -4.5l10.5 -2.3l12 -1.9l6 -.4l6 -2.8l19.6 -1.3l19.5 -2.9l10.5 -3l6 -.5l10.5 0l6 -1.3l1.6 .2l1.1 1l2 3.5l1.4 1.4l1.5 .5l4.5 0l1.5 -.5l1.4 -1.4l.8 -1.8l.1 -5.3l.7 -1.8l8.4 -3.5zM167.7 293.7l-5.6 2.1l-.1 1.7l4.8 5.4l2.4 1.4l1.5 .4l10.5 -.1l3.4 -1.7l.3 -3.6l-.3 -3.5l-1.9 -2.4l-1.5 -.6l-9 -.1l-4.5 1zM359.6 272.7l9.5 -1.6l6 .8l4.5 1.3l3.4 1.2l1.8 1.8l.8 3.6l-.2 1.7l-2.8 2l-7.5 2.4l-12.1 -2.4l-6.7 -.2l-7.1 -1.8l-1.1 -1.7l0 -3.6l.9 -1.8l2 -.8l6 -.2l2.6 -.7zM404.7 274.4l19.2 0l-.9 1.8l-5.9 .2l-6 1.7l-3 .1l-3 -.4l-1.5 -1.4l1.1 -2zM264.6 310.0l.8 -1.1l1.5 -.2l.5 1.3l0 1.8l-.5 1.2l-1.5 -.2l-.8 -1l0 -1.8z"/>
<path fill="#ffff00" d="M101.0 158.9l2.1 -.6l1.2 .6l.3 .8l.2 4.6l-.6 1.8l-1.1 .9l-2 -.9l-.7 -1.8l0 -3.6l.6 -1.8zM344.1 164.3l.9 -1.6l1.5 .7l.7 .9l.5 1.8l-1.2 2.1l-1.5 .5l-1.1 -2.6l.2 -1.8zM355.0 171.4l2 -1.6l1.5 .8l1.3 2.6l-.8 1.7l-2 1.6l-2.9 .2l-.3 3.6l-1.3 1l-1.5 .3l-1 -1.3l.2 -1.8l.8 -1.4l3 -.5l.2 -3.4l.8 -1.8zM754.9 171.4l1.8 -.6l2 2.4l.2 1.7l-.1 5.4l-.9 1.7l-1.2 1.1l-1.5 .3l-4.5 -1.5l-.8 -1.6l.8 -3.7l4.2 -5.2zM158.4 265.6l22.8 -.1l7.5 1l22.6 .1l3.2 .7l4.3 3.9l4.5 1.6l1.6 1.6l-1.6 1.1l-10.5 2.6l-6 2.3l-7.5 1l-1.2 1.9l1.2 1.5l1.5 .6l4.5 .2l1.5 .9l4.5 5.9l4.5 7.2l3 2.5l3 1.7l9 3.5l4.5 .7l7.5 .3l6 1.5l4.6 .2l1.2 1.8l-5.8 2.5l-2.5 2.8l-.8 1.8l.2 7.1l1.1 1.7l2 1.6l4.6 1.3l6.2 .7l25.3 .9l12 -.4l6 -1.3l15.1 -1.9l18 -4.1l31.5 -5.1l1.7 -.5l2.1 -1.8l5.3 -11.3l3.7 -2.9l6.8 -2.8l6 -1.1l6 -1.8l9 -.3l3 .1l6 1.1l18.1 4.5l12 .5l7.5 2.4l4.5 .2l10.1 6.1l3.4 3.4l3 1.4l3 .1l4.5 -1.8l1.6 .2l2.3 2l-.1 1.8l-3.2 1.7l-5.1 .8l-1.7 1l-1.2 1.8l.3 1.8l2.2 1.7l3.4 2.5l2.8 1.1l10.8 .6l10.5 1.9l4.5 .4l15 -.1l7.5 -.8l6 -.2l6.1 -.9l6 -.1l18 -2.7l16.5 -4.9l1.5 -.7l3 -3l3.9 -7.3l2 -1.7l16.7 -5l5.4 -2.2l12.6 -2.8l10.5 -4.3l15 -3.7l13.6 -5l9 -2.1l16.5 -2.3l7.5 -3l16.6 -1l21 -2.5l10.5 -2l12 .7l4.9 1.4l2.2 1.8l.7 1.7l-.8 1.8l-4 5.4l.5 1.7l2.5 4.2l.1 2.9l-1.6 3.2l-1.8 2.2l-5.7 4.5l-4.2 2.6l-1.7 1.8l.8 1.7l3 1.8l5.1 1.6l4.5 2.5l7.6 1.1l6 3.1l10.5 1.2l12 -.4l1.5 .8l4.5 5.3l1.5 .8l16.5 .1l13.6 -.7l6 -1.6l6 -.5l2.3 -2.6l.4 -5.4l.7 -1.7l2.6 -1.3l12 -1.3l4.5 -1.2l2.6 -1.6l11.2 -10.6l4.1 -1.8l7.7 -1l6.2 1l2.9 1.8l1 1.7l-.9 5.4l-1.7 1.8l-7.5 4.4l-12.1 .3l-1.6 .6l-.9 1.8l1 1.7l4 3.6l2.1 1.8l1.5 .4l24 -.1l0 28.1l-870 0l0 -28l12 .1l6 -2.8l6 -1.7l6.1 -.4l1.5 -1l1 -1.7l-.4 -1.8l-4.5 -5.3l-.7 -7.6l-.3 -1.3l-1.1 -1.8l-3.1 -1.9l-5.1 -1.7l-.6 -1.7l7.2 -3.1l2.2 -4l3.9 -4.6l4.5 -2.6l6 -2l2.3 -1.5l7 -8.9l2.7 -1.9l4.5 -.4l45.1 -.2l7.2 -1zM184.2 286.9l-6 .9l-9 .5l-4.5 2.1l-5.7 1.8l-1.6 1.8l-.7 1.8l.5 3.3l3 3.8l2.2 1.7l5.3 2.2l3 .4l10.5 0l6 -1.5l2 -1.1l1.6 -1.7l-.1 -14.2l-2 -2.5l-1.5 -.2l-3 .9zM800.1 265.6l4.7 -1l30.1 .2l7.7 2.5l.9 1.8l0 3.6l-.4 1.7l-.7 .7l-7.5 4.6l-6.1 .4l-6 2.7l-12 .7l-6 -2.6l-4.5 -1.2l-2.7 -1.7l-1.6 -1.8l-.7 -1.8l-.1 -5.3l.7 -1.8l4.2 -1.7zM361.4 274.4l7.7 -.9l6 .3l2.1 .6l2.7 1.8l1.2 1.6l.9 2l.1 1.7l-2.7 1.8l-4.3 1.4l-12.1 -2.7l-7.2 -.5l-.5 -1.7l6.1 -5.4z"/>
<path fill="#ffc400" d="M154.9 267.3l3.8 -.5l22.5 0l7.5 1.1l18.1 1.4l4.5 1.3l2.2 2.1l.7 1.7l-7.4 3.5l-6 .4l-6 2.7l-7.3 .5l-9.3 3.4l-9 .7l-12 2.9l-1.5 2l-3 7.6l-1.5 1.7l-4.5 .1l-1.5 -.4l-4.5 -4.3l-1.5 -.5l-3 -.1l-3.1 .3l-1.5 .8l-3 3.4l-1.5 .8l-13.5 .1l-1.2 -.7l-.7 -3.5l-2.6 -2.8l-6 -.6l-2 -2l-.7 -3.5l0 -10.7l.3 -1.8l.9 -1.2l3 -2.8l4.5 -1.2l18 -.1l24.1 -1.1l3.7 -.7zM802.0 267.3l4.3 -.7l28.6 .2l1.5 .5l1 1.8l0 3.6l-.4 1.7l-2.1 1.5l-6.1 .6l-6 3.1l-3 .4l-9 0l-7.5 -2.2l-2.3 -1.6l-1.1 -1.8l0 -1.7l.7 -3.6l1.4 -1.8zM369.6 278.0l2.5 -.9l3 -.4l3 2.5l.8 2.3l-3.8 1.9l-7.3 -1.9l-.4 -1.7l2.2 -1.8zM736.2 279.8l14.5 -1.4l6 1.6l4.5 .2l1.5 .5l1.2 .8l-.4 1.8l-2.3 3.3l-.5 2.1l.5 2.4l2.9 4.7l-.3 1.7l-4.5 7.1l-4.1 2.9l-4.5 1.9l-4.5 1.3l-13.5 .5l-2.5 .6l.3 1.7l5.2 4l3 .9l7.5 .2l15 1.3l6 3.2l6 .6l7.6 3.4l22.5 .3l1.5 1l3 3.3l3 1.7l52.6 -.1l2 -.2l5.5 -4l34.6 -.1l7.5 -.9l6 .4l0 25.9l-870 0l0 -25.9l12 .5l7.5 -1.8l27.1 -.1l1.5 -.1l2.1 -1l1 -1.8l.2 -3.6l-.3 -1.7l-1.5 -1.8l-7.5 -2.5l-6 -.6l-2 -2.2l-.9 -3.6l.5 -5.3l1.2 -1.8l1.2 -.9l1.5 -.2l25.5 0l1.3 4.6l6.2 7.1l1.5 .7l18.1 .2l9 1.9l3 -.2l1 -.8l3.5 -4.4l1.5 -1.3l12 1.9l12 0l6 -.5l7.6 -1.9l4.5 -.2l1.5 -.9l4.5 -5.6l1.5 -.5l4.5 .1l4.5 3.9l4.5 2.1l10.5 3.5l10.5 .8l2.7 1.3l-1 1.7l-3.2 3.6l-2.1 3.5l-3.3 3.6l-.6 1.8l1.5 2.3l3.6 3l2.4 1.3l3 .6l46.6 .2l6 -.1l6 -1.3l6 -.4l6.1 -1.1l9 -1l3 -.6l8.4 -2.9l8.1 -1.8l7.5 -.6l18.1 -2.8l3.7 -1.9l3.8 -5.9l5.4 -6.6l1.7 -1.8l2.8 -1.7l12.6 -4.2l12 -.5l7.5 1.5l16.6 5.5l12 .4l6 3l6 .7l1.7 .7l2.1 1.8l4.8 5.3l.4 1.9l-1 1.6l-2 1.1l-22.5 .2l-1.5 .7l-1.3 1.6l-.4 1.8l1.7 2.2l1.5 .7l28.5 .2l6 1.7l6 2.3l12.1 .3l13.5 1.8l16.5 0l25.6 -1.9l18 -3l16.5 -4l1.5 -.5l2.5 -1.6l3.5 -4.2l3.6 -2.9l5.2 -5.3l4.3 -1.8l9.5 -2.3l8.4 -3.1l9.6 -2.5l9 -3.4l15 -4l9.1 -3.3l9.8 -2.7l12.7 -2.5l6 -.7l7.5 -2.6l4.5 -.3l6 -1.1l6.1 -.1l7.5 -1.1l9.5 -.5zM78.5 288.7l.6 -.6l1.5 0l.7 .6l.1 1.7l-.8 1.1l-1.5 .5l-.8 -1.6l.2 -1.7zM892.5 302.9l2.5 -.9l6 -.4l5.5 1.3l1.3 1.7l-.8 2.4l-1.5 1.9l-4.5 3.5l-10.5 .2l-3.1 -.7l-.3 -1.9l3.3 -5.4l2.1 -1.7z"/>
<path fill="#ffa000" d="M153.5 269.1l5.2 -.9l22.5 0l13.6 1.5l3 1.1l3 1.8l4.5 .4l2.4 1.4l-2.4 1l-4.5 .3l-4.5 2.9l-3.1 1.1l-7.5 .7l-10.5 2.6l-10.5 .6l-7.5 2.2l-3 2.1l-3 4.4l-1.5 .4l-3 0l-6 -1.6l-3 -.2l-4.6 .1l-6 1.6l-10.5 .1l-1.5 -.6l-4 -5.2l-3.5 -3l-1.1 -2.4l-.1 -5.3l.6 -1.8l2.1 -1.3l18 -.4l6 -1.6l6.1 -.2l6 -1.3l8.3 -.5zM803.7 272.7l1.1 -1.4l1.5 -.3l15 0l1.5 .4l1.4 1.3l.5 1.7l-1.9 1.4l-1.5 .5l-12 -.1l-4.5 -.7l-1.6 -1.1l.5 -1.7zM725.0 281.5l24.2 -.8l3.1 .8l2.6 1.8l1.3 1.8l1.1 3.6l1.2 7.1l-.1 1.7l-1.2 5.4l-1.5 1.7l-8 3.8l-4.5 .9l-12 .2l-6 1.2l-6 .3l-1.9 .8l-.7 1.7l.4 3.6l2.2 1.3l12 .5l6 1.2l7.5 .2l10.5 1.3l6 1.7l6 3.5l4.5 1.2l6.1 2.4l3 .4l22.5 .2l4.5 3.2l3 1.1l52.6 0l7.5 -1.5l18 -.5l6.1 -1.8l12 -.2l6 -1.3l6 .5l0 23.9l-870 0l0 -23.8l7.5 .8l12 -.7l28.6 .1l6 -1.5l6 -.5l9 -10.3l3 -2l18.1 -.1l6 2.2l6 0l4.1 -1.5l3.4 -2.5l27 -.1l7.5 -1.7l6.1 -.2l2.3 -.8l5.2 -4.4l4.5 -.1l4.5 1.3l9 1.6l2.5 1.6l4 3.5l1.3 1.8l-.2 1.8l-1.6 2l-1.5 .7l-4.5 .3l-1.5 1.1l-4.5 5.5l-6.5 1l-1.7 1.8l1.3 1.8l23.4 .3l9 1.4l52.6 -.1l6 -1.1l6 -.2l6.1 -1.3l12 -.8l16.5 -5.6l7.5 -.7l6 -1.3l13.6 -1.4l3 -1.2l4.5 -2.8l4.5 -4.8l7.1 -8.9l9.4 -4.5l6 -.7l6 0l6 1.1l6.2 2.4l3.2 1.7l2.7 2.3l2.6 1.3l4.9 .9l10.5 .2l1.6 .7l1.1 1.8l-1 1.7l-1.7 .9l-6 .6l-1.5 1.3l-3 4.1l-1.5 1.1l-21.1 .3l-3 .3l-1.9 2.1l-.2 1.8l1 1.7l1.1 .9l3 .4l21.1 .2l1.5 1.1l3.4 4.6l1.1 .9l1.5 .4l4.5 0l6 -1.7l13.5 -.7l10.5 0l7.6 1l10.5 0l13.5 1.4l18 0l24.1 -1.5l36 -7.3l3.3 -1.4l2.7 -2.4l7.5 -4.7l7.2 -7.1l3.4 -1.3l6 -.9l10.5 -4.1l15 -5l40.6 -11.8l30 -6l6.1 -.2l5.8 -1zM894.2 304.6l.8 -.5l4.5 -.4l1.5 .1l1.4 .8l-1.4 2.2l-3 .4l-3 -.3l-.8 -2.3zM96.2 308.2l2.4 -.9l10.5 .2l2.4 2.5l.3 1.8l-1.2 1.7l-1.5 .9l-6 -.2l-7.1 -2.4l-.9 -1.8l1.1 -1.8z"/>
<path fill="#ff8200" d="M151.5 270.9l7.2 -1.2l22.5 0l13.6 1.6l2.4 1.4l1.3 1.7l-2.2 2.5l-3.1 1.3l-9 .9l-9 1.7l-12 .4l-9 2.6l-3 1.5l-16.6 .1l-1.5 -.3l-1.7 -1.8l-.7 -1.8l-.1 -3.5l0 -1.8l.9 -1.8l3.1 -.9l4.6 -.1l6 -2.3l6.3 -.2zM722.3 283.3l4.4 -.6l21 -.2l3.7 .8l2.3 2.1l1.4 3.3l-.2 5.3l-1.3 7.1l-.8 1.8l-2.3 1.7l-2.8 2.1l-3 1.2l-13.5 .3l-6 .8l-6 .1l-4.6 1l-3.5 1.7l-.5 1.7l.2 3.6l2.3 1.9l6.1 1.7l12 .2l6 .8l7.5 .2l7.5 1.3l6 2.2l4.5 4l6 1.9l4.5 2.7l1.6 .4l28.5 .1l4.5 2l3 .6l54.1 0l18 -1.7l6 -.1l6.1 -1.4l12 -.2l6 -1.7l6 .6l0 21.8l-870 0l0 -21.7l6 .6l54.1 .4l2 -.6l2.4 -1.8l3.5 -3.6l4.1 -5.3l1.5 -.6l4.5 -.2l4.5 -1.3l6.1 -.9l9 1.3l6 -.5l6 -1.2l28.5 .2l1.9 -.3l5.7 -2.5l6 -.2l7.5 -1.7l9 .1l1.5 .4l1.7 2.1l-.2 1.8l-1.5 1.9l-1.5 .8l-4.5 .2l-1.5 .6l-4.2 5.3l-1.8 1.7l-4.5 1.4l-6 .3l-.7 .2l-1 1.8l1.7 .4l10.5 .2l7.5 1.6l22.5 .1l7.5 .8l54.1 0l6 -.8l6 -.1l6.1 -1.3l12 -.3l6 -2.1l9 -1.4l4.5 -1.9l10.5 -3l12.1 -.6l6 -.9l1.5 .4l1.5 1.8l.2 5.3l.5 1.8l2.3 2.6l1.5 .5l16.5 .2l5.5 3.8l2 .2l40.6 .1l6 -2.1l6 -.4l7.5 -1.7l28.6 0l12 1l16.5 0l27.1 -1.1l7.5 -1.2l22.5 -5.4l6 -.7l3 -.9l7.5 -3.6l9.1 -5.5l4.5 -4.3l1.5 -.9l4.5 -1.1l10.5 -4.8l6 -1.7l7.4 -3.2l5.6 -1.8l42.9 -12.4l17.7 -3.2l6 -1.6l9.2 -.6zM675.6 333.1l.1 1.8l1.4 1l3 .4l15 -.2l2 -1.2l.5 -1.8l-2.5 -1.3l-3 -.1l-13.5 .7l-3 .7zM401.6 301.1l9.5 -.5l6 1.2l2.8 1.1l1.7 1.7l.1 1.8l-1.6 5.4l-1.3 1.7l-1.7 1.2l-6 1.6l-12 0l-3 -.7l-3 -1.3l-2.1 -2.5l.3 -1.8l3.4 -5.4l2.9 -2.3l4 -1.2z"/>
<path fill="#ff5a00" d="M145.1 272.7l6.1 -.3l7.5 -1.2l22.5 0l12 1.2l1.6 .6l1.4 1.4l-1.5 1.8l-3 .8l-16.5 1.8l-12 .2l-7.5 1.4l-9 -.4l-3 -.9l-1.2 -1.1l-.9 -1.8l.3 -1.8l3.2 -1.7zM714.1 285.1l12.6 -.9l22.5 0l1.9 .9l1.7 1.8l.8 1.8l.1 1.7l-1 3.6l-3.5 8.9l-1.2 1.7l-1.8 1.4l-3 1l-24 .8l-11.4 2.2l-3.3 1.8l-3.4 3.8l-.5 1.5l.3 1.8l1.7 .8l4.5 .2l6 1.8l6.1 .9l24 .7l5.1 .9l4.3 1.8l4.1 4.1l4.5 5.6l1.5 .5l4.5 .1l7.6 1.7l28.5 .1l7.5 .9l54.1 0l12 -.4l6 -1.4l6 -.1l6.1 -.8l12 -.1l6 -1.6l6 .2l0 19.6l-870 0l0 -19.6l30.1 .2l7.5 1.2l21 .1l3 -.3l6 -1.6l22.6 -.2l2.1 -1.1l-.6 -1.1l-1.5 -1.1l-4.6 -1.3l-2.6 -1.9l-.8 -1.7l1.4 -1.8l3.6 -1.6l3 -.7l7.5 .6l12 -1.4l22.5 0l7.5 .6l10.6 .1l1.5 .6l1.4 1.8l-.4 1.8l-2.5 1l-4.5 .2l-1.6 .5l-5.8 3.6l-1.1 1.8l2.7 1.8l4.2 1.2l12.1 .2l7.5 .9l22.5 0l9 .5l51.1 0l13.5 -.6l6.1 -.8l12 -.1l6 -1.6l12 -.3l6 -3.3l6 -1.8l9 -.2l3.1 .2l1.5 .9l6.5 8.3l2.5 1.8l3 .5l16.5 .1l7.5 1.4l40.6 0l6 -1.2l7.5 -.5l6 -1.8l10.5 0l7.6 -1l40.5 .7l30.1 -1.1l9 -1.4l7.8 -2.8l7.2 -1.9l9 -1l9 -2.5l3.1 -1.3l24.4 -14.6l4.1 -2l6 -.8l6 -3.4l6 -2.7l6 -1.9l9.1 -1.7l13.5 -5.1l10.5 -2.1l9 -3.2l6 -.6l13 -3.2zM689.1 329.2l-6 1.1l-6 .2l-6 1.5l-2.2 1.1l-.6 1.8l.1 3.5l1.5 1.8l1.2 .3l10.5 .2l48.1 -.1l3.2 -.4l.8 -1.8l-5.5 -5.8l-3 -1.6l-22.6 -.2l-7.5 -1.8l-6 .2zM400.5 302.9l4.6 -.9l6 -.1l4.7 1l2.4 1.7l-1.1 3l-1.9 2.4l-2.6 2l-3 .6l-9 0l-2.6 -.8l-1 -1.8l1.1 -5.4l2.4 -1.7z"/>
<path fill="#fa0000" d="M145.8 274.4l5.4 -.2l9 -1.4l22.5 .1l6 .6l4.7 .9l-4.7 1.3l-4.8 .5l-8.7 .6l-12 .1l-6 .7l-6 -1.2l-4.5 -.2l-.9 -1.8zM711.8 286.9l2.8 -.6l12.1 -.6l22.5 .1l1.5 .8l1.5 2.1l0 1.7l-3.7 7.1l-1.2 5.4l-1.3 1.7l-1.3 .8l-3 .6l-25.5 .7l-9.1 1.3l-6.9 2l-2 1.8l-.9 3.5l-.1 3.6l.9 2.4l1.5 1.5l1.5 .7l7.5 .4l9.1 1.2l25.5 .2l2.3 .7l-.2 1.7l-.6 .6l-1.5 .6l-9 .1l-3 -.4l-6 -1.7l-22.6 .1l-12 -.5l-6 2l-10.5 .7l-9 2.1l-24.1 .4l-2.1 1.4l.5 1.8l5.7 5.3l1.9 .8l18.1 .2l7.5 1.6l58.6 0l9 -1.7l135.2 .1l7.5 -2l24.1 -.5l12 -1.7l0 17.4l-870 0l0 -17.5l6 -.4l24.1 0l6 2l3 .2l51.1 -.6l9 -1.8l31.5 0l7.5 1.7l7.6 .7l48 .7l51.1 0l51.1 -1.4l7.5 -1.7l15 0l1.6 .2l4 3.7l6.5 2.3l19.5 .4l9 .8l39.1 0l13.5 -1.1l6 -1.3l10.5 -.1l7.6 -1.8l42 .3l24.1 -.3l13.5 -.8l6 -.8l3 -.9l6 -4l18 -1.8l6.1 -1.4l2.9 -2l3.7 -3.5l6.9 -2.5l6 -5.2l6 -1.9l6 -.3l4.8 -4.3l7.2 -2.7l3.1 -2.7l2.9 -1.5l10.6 -1l4.5 -.8l3 -1.2l3 -2.6l3 -1.7l12 -1.3l6 -3.7l7.5 -.7l9.2 -3.2zM403.8 304.6l4.3 -.8l3 .2l1.7 .6l-1.7 2.4l-3 .2l-3 -.3l-.6 -.5l-.7 -1.8zM148.2 324.2l10.5 -1l22.5 0l6.1 1l1.9 1.8l-6.5 3.9l-1.5 .5l-3 .1l-27 -.1l-4.5 -1.1l-8.4 -3.3l2.4 -1.2l4.5 .1l3 -.7z"/>
<path fill="#c80000" d="M711.0 288.7l3.6 -1l15.1 -.4l18 0l1.5 .2l1.5 1.2l-.1 1.7l-3.8 5.4l-1.3 7.1l-2.3 1.8l-25.5 .4l-16.6 1.6l-3 -1.6l-1.5 -2.2l-4.2 -3.6l-.7 -1.8l.5 -1.7l2.9 -2.3l9 -1l3 -1.1l3.9 -2.7zM628.2 320.6l2.3 -.4l52.6 .1l3 1.7l.9 2.2l-1 1.8l-2.9 1.1l-7.5 .2l-10.5 1.3l-24.1 .1l-6 1.7l-4.5 .1l-1.5 -.1l-1.9 -.9l-1.5 -1.8l-.6 -1.7l.2 -1.8l.8 -1.8l2.2 -1.8zM583.9 336.6l1.5 -1.2l1.5 -.4l1.5 .6l1.5 1.6l1.5 3.2l1.5 1.4l1.5 .2l45.1 0l7.5 1.9l18.1 .1l7.5 .8l58.6 0l9 -.9l135.2 0l9 -1.9l28.6 -.1l6 -2.5l0 15l-870 0l0 -15.1l6 -1.2l24.1 .1l3 1.2l3 2.3l3 .3l279.4 0l7.6 1.9l6 .9l18 0l7.5 .5l39.1 0l15 -.6l6 -.8l10.5 0l9.1 -1.9l93.1 0l1.5 -.5l1.2 -1.3l1.8 -3.6z"/>
<path fill="#00ffff" d="M590.9 93.2l58 0l-1.9 2.2l-3 .2l-49.6 0l-1.5 -.2l-2 -2.2zM73.6 112.7l5.5 .1l1.5 1.7l.5 1.8l0 5.3l-.9 1.8l-1.1 1l-6.1 -.1l-1.5 -2l-.3 -4.2l.3 -3.4l2.1 -2zM811.4 112.7l8.4 -.1l3 .6l6.9 8.4l-.3 1.8l-4.4 5.3l-.6 1.8l-.2 5.3l-.6 1.8l-.8 .9l-1.5 .5l-4.5 .2l-1.5 .5l-1.5 1.1l-1.5 2.4l-1.5 1.1l-1.5 -2l-.7 -6.5l.7 -7.1l.1 -12.4l.4 -1.8l1 -1.6l.6 -.2zM241.1 143.0l1.7 -1.2l1.5 -.2l9.1 .1l1.5 .5l1.4 2.5l.1 5.4l-.5 1.7l-1 1.2l-1.5 .6l-16.6 -.1l-1.8 -1.7l.3 -1.7l3.9 -3.6l1.9 -3.5zM151.0 150.1l1.3 1.7l.1 1.8l-.1 3.6l-1.1 2.5l-.9 -.8l-.6 -3.5l.2 -3.6l1.1 -1.7zM381.5 157.2l1.1 -.9l4.5 .1l.8 .8l.6 1.7l-1.4 1.5l-4.5 -.8l-1 -.7l-.1 -1.7zM737.0 164.3l1.7 -.8l3 -.1l1.5 .5l.3 2.2l-1.8 .9l-3 .7l-1.5 -.4l-.9 -1.2l.7 -1.8zM265.9 171.4l1 -.6l3 -.2l19.5 0l1.9 .8l1.2 1.8l.3 14.2l1.1 2.9l1.5 1.4l1.5 .6l6 .4l1.5 1.7l1.5 3.1l4.5 4.1l1.9 3.5l2.7 2l1.4 1.6l1.8 3.6l4.1 3.5l.5 1.8l.4 7.1l.9 1.8l3.9 3.5l.2 1.8l-3.9 3.5l-1 1.8l-.8 8.9l-1.5 1.7l-6 .4l-1.5 .6l-1.5 1.5l-1.5 3.1l-1.6 1.6l-6 .4l-1.5 .6l-3.6 4.3l-.9 .4l-12 .6l-6 .9l-1.5 -1l-2.6 -4.4l-2.4 -1.8l-1.5 -1.8l-.4 -14.2l-1.4 -3.6l-2.2 -1.6l-6 -.4l-1.9 -1.5l-1.8 -3.6l-2.3 -1.7l-6.1 -.5l-1.5 -1l-2.1 -3.9l-3.9 -3.3l-.8 -2l-.1 -19.5l.9 -2.8l3.3 -2.6l1.2 -1.7l.5 -1.8l.3 -7.1l.7 -1.3l1.5 -1l12.1 -.4l1.5 -.9l3.5 -5.3zM326.8 171.4l1.8 1.8l.3 1.7l-.2 5.4l-1.7 1.8l-1.5 -1.2l-.6 -2.4l.2 -5.3l1.7 -1.8zM646.5 171.4l2 -.8l10.6 .2l1.9 2.4l.3 7.1l.8 2.1l6.9 6.8l2.1 1.1l6 1.8l12 .4l1.5 1.2l2.5 4.3l3.5 3l.8 2.4l0 17.7l-.8 3.8l-1.5 1.1l-1.5 .2l-49.6 0l-3 -.3l-1.2 -1.2l-.6 -1.8l-.4 -7.1l-.8 -1.7l-4.1 -3.6l-1.9 -3.7l-4 -3.4l-.9 -1.8l-.1 -12.4l.2 -1.8l1.8 -2.1l12 -.3l2.2 -1.2l1.3 -1.8l.5 -1.7l.3 -7.1l1.2 -1.8zM870.7 171.4l.4 0l1.1 1.8l-1.3 1.6l-1.7 -1.6l1.5 -1.8zM49.0 192.7l0 -.3l6 .2l1.5 1.5l1.5 3l1.5 1.7l1.5 .7l6 .3l1.5 1.4l2.2 3.9l2.3 1.6l24.1 .4l1.5 1.2l3 4.8l1.5 .8l6 .4l1.7 1.5l.5 1.8l.1 5.3l.7 2.6l1.5 2.1l3 2.3l3 4.9l3 1.1l10.5 .2l1.5 1l.8 1.8l.2 1.8l-.5 5.3l-1.9 1.8l-1.6 .2l-82.6 0l0 -55.3zM145.9 192.7l11.3 -.2l2.2 2l.2 7.1l-.9 1.8l-4 3.5l-.7 1.8l-.4 14.2l-.6 1.8l-1.8 1.3l-1.5 .2l-13.5 0l-3.1 -.6l-1.4 -2.7l-.1 -5.3l.6 -1.8l4 -3.5l1 -1.8l.9 -8.9l1.1 -1.4l3 -2.3l1.8 -3.4l1.9 -1.8zM742.4 192.7l.8 -.2l1.5 .4l2.1 1.6l3.9 3.7l2.8 3.4l.8 3.5l.5 12.5l3 7.1l.2 5.3l.8 1.8l4.3 5.3l.7 1.8l.1 12.4l-.8 1.8l-4.2 1.8l-3.7 .6l-12 -.1l-6 -1.8l-.7 -.5l-.7 -1.8l0 -47.9l.3 -1.8l4.3 -7.1l2 -1.8zM912.8 192.7l6.2 -.3l0 55.6l-12 .1l-2.5 1.5l-1 1.7l-.4 1.8l.9 2.3l1.5 1.5l1.5 .7l6 .2l1.5 .6l4.5 3.9l0 22.9l-6 1l-4 2.5l-2 .6l-1.9 -.6l-5.2 -5.4l-2.5 -3.5l-10 -11.6l-.6 -2.6l0 -10.7l-.6 -3.6l-1.1 -1.7l-2.4 -1.8l-1.4 -1.8l.6 -1.8l3.9 -3.5l.7 -1.8l.4 -7.1l.7 -1.8l1.3 -1.1l6.1 -.4l2.7 -2l1.1 -3.6l.1 -12.4l.5 -1.8l1.6 -1.6l6 -.4l2.4 -1.6l1.5 -3.5l.4 -7.1l1.5 -1.8zM546.2 254.9l16.7 0l12 .9l6 1.7l12 .6l1.4 2.1l-2.4 3.6l-.8 3.5l.4 7.1l1.4 4.3l1.5 .7l4.5 .3l2.2 1.8l3.9 1.8l24 .6l6 .8l6 2l.7 2l-8.2 2.7l-8.3 4.4l-20.2 4.2l-12.1 4l-9.8 6l-9.7 6.7l-10.5 5.5l-9 1.3l-13.6 .6l-15 -.9l-9 -1.8l-1.8 -.8l-1.8 -1.7l-2.4 -7.1l-3.1 -1.8l-19.4 -4.5l-15.2 -6.2l-11.9 -4.2l-27 -4.3l-1.6 -.4l-2.3 -1.7l6.8 -1.8l22.6 -3.5l2.9 -1.9l1.6 -2.4l1.4 -1.1l1.6 -.6l10.5 -1.1l3 .4l3 1.5l1.6 -.2l4.5 -5.1l1.5 -1.1l4.5 -1.4l7.5 -1.4l3 -1.7l3 -2.7l1.5 -.6l10.5 -2.2l6 -4l4.5 -.2l7.5 -2l7.4 -.7zM49.0 263.8l0 -1.1l6 2.4l1.5 1.6l.5 2.4l.1 8.9l-.6 3.5l-7.5 3.6l0 -21.3zM265.0 272.7l3.4 -.5l4.5 .4l3.4 3.6l9.2 5.3l-.1 1.8l-2.7 1.8l-3.8 .9l-6 -1.4l-4.5 -.5l-15 .2l-3.9 -1l-2.3 -1.8l1 -1.7l5.2 -5.6l1.5 -.6l6 -.2l4.1 -.7zM322.1 294.0l34.9 .2l1.6 1.6l.5 1.7l-.1 5.4l-2 3.1l-4.5 4.6l-1.5 .9l-6 .6l-6 3l-18 1l-6 2.4l-1.5 .2l-16.6 .5l-6 .9l-1.5 -1.2l.2 -1.8l3.9 -3.6l1.8 -3.5l1.6 -1.6l6 -2.1l2.5 -1.7l3.5 -3.3l6.1 -2.2l6 -5l1.1 -.1z"/>
<path fill="#1496e1" d="M821.0 119.9l1.8 -.2l1.6 1.9l-.4 1.8l-1.2 1.3l-1.5 .2l-1.2 -1.5l-.3 -1.8l1.2 -1.7zM252.5 185.6l2.4 -1.6l1.5 -.1l22.5 .3l1.6 1.4l2.9 4.6l3 2.5l2.5 3.6l2 1.8l6 .6l1.5 1.1l3 4.8l3 2.5l3 4.7l2.8 2.2l1.2 1.8l.9 8.9l1.2 1.6l3 2.5l1.3 3l0 5.3l-.3 1.8l-1 1.7l-1.5 1.1l-6.7 .8l-1.8 1.7l-2.1 3.6l-1.5 1.1l-12 .4l-2.4 2l-2.1 3.6l-1.5 1.1l-1.5 -.6l-1.5 -2.3l-.2 -7.1l.6 -1.8l3.9 -3.5l1 -1.8l-.8 -2.6l-1.5 -1.3l-6 -.4l-1.5 -.9l-3 -4.6l-6.4 -6.2l-1.1 -.6l-6 -1.8l-6 -.4l-1.5 -.8l-3.1 -4.6l-4.3 -4.2l-.6 -3.6l.3 -5.3l1 -1.8l3.9 -3.5l.7 -1.8l.3 -7.1l.9 -1.8zM645.3 192.7l1.7 -1.3l1.5 -.2l16.6 .1l8.3 3.2l3.7 3.6l6 .4l1.5 .9l1.4 2.2l-.4 1.8l-1 1.2l-1.5 .9l-6 .5l-1.5 1.2l-.9 1.5l-.3 1.8l-.2 5.3l-.5 1.8l-1.1 1.5l-1.5 .9l-6 -.1l-1.5 -1.2l-3 -4.7l-1.5 -.9l-12.1 -.4l-1.5 -1.1l-2.9 -4.7l-3.1 -2.6l-1 -2.7l1 -1.9l3.8 -3.4l2 -3.6zM742.1 196.3l1.1 -1.4l1.5 .3l6 5l1.8 3.2l2 26.6l.5 1.8l4.5 5.3l1.1 3.6l.3 5.3l-.6 3.6l-.6 1.7l-3 2l-12 .2l-2.1 -.4l-1.7 -1.8l-.2 -19.5l-1.4 -8.9l-.1 -17.8l.4 -3.5l2.5 -5.3zM52.2 214.0l4.3 -1.1l28.6 .2l1.5 .9l3 4.7l3 2.5l1.2 1.7l.5 3.6l-.4 5.3l-1.2 1.8l-1.6 .9l-4.5 .2l-2.2 .6l-1.6 1.8l-2.1 3.6l-1.6 1.1l-24.1 0l-1.5 -1.1l-3 -4.8l-1.5 -1.1l0 -18.5l3.2 -2.3zM918.4 217.6l.6 -.7l0 17.6l-1.5 -1l-1.1 -1.7l-.4 -1.8l.2 -7.1l1.1 -3.5l1.1 -1.8zM538.8 258.4l6.1 -1.4l18 .1l6 1.4l6 .3l6 2.4l6 .9l1.5 1.6l.6 1.9l1.5 10.6l.9 3.6l1.5 2.3l6 .7l6.1 2.2l6 .1l6 .8l12 .1l3.7 .9l2.9 1.8l-6.6 3.4l-9.5 3.7l-14.5 3.1l-12.1 3.9l-21 12.7l-10.5 4.5l-10.5 2.1l-10.6 .6l-10.5 -.9l-9 -2l-4.6 -2.7l-3.3 -5.3l-2.7 -1.8l-19.4 -4.7l-13.6 -6.1l-16.5 -5.7l-16.5 -3.1l-3.4 -1.7l6.4 -1.6l12 -2l3 -1.4l4.5 -3.6l7.5 -1.8l4.5 -.1l1.5 .7l3 2.7l1.6 .2l6 -5.8l4.5 -2.5l7.5 -2.3l10.5 -5l7.5 -2.3l6 -2.7l7.3 -1l4.7 -1.8zM895.7 263.8l9.8 -.1l1.5 .2l1.5 1.1l3 4.8l7.5 4.5l0 8.4l-7.5 .8l-4.5 1.4l-14.7 -17.6l1.2 -2.5l2.2 -1zM49.0 276.2l0 -1.3l1.5 2.1l1 2.8l-.4 1.7l-2.1 1l0 -6.3zM253.4 279.8l1.5 -1.3l1.5 -.3l15 .1l8.5 3.2l-1 1l-1.5 .2l-10.5 -.6l-12 .2l-2.2 -.8l.7 -1.7zM326.8 297.5l19.7 .9l4.5 1.5l1.5 1.2l1 1.8l-.6 1.7l-1.9 2.5l-2.1 1.1l-3.9 .9l-6 3l-6 .3l-6 1.5l-6 .1l-7.5 2.2l-7.6 -.5l-3 -1.1l-1.5 -1.2l-.8 -1.6l1.2 -1.8l7.1 -4.6l12.1 -7.1l5.8 -.8z"/>
<path fill="#1473c8" d="M264.9 199.8l2 -1.3l1.5 -.1l13.5 0l3 .6l2.2 2.6l.5 1.8l.1 12.4l.5 1.8l1.2 1.6l1.5 .8l4.5 .2l2.5 .9l1.2 1.8l0 1.8l-.7 1.2l-1.5 1.2l-1.5 .3l-10.5 -.1l-1.5 -.8l-3 -4.7l-1.5 -1.3l-6 -.4l-7.6 -2.5l-1.6 -1.8l-.2 -1.8l0 -10.6l.3 -1.8l1.1 -1.8zM744.4 199.8l4.8 1.4l1.5 2l.5 1.9l.6 5.4l-.3 21.3l.7 1.9l1.3 1.6l2.5 1.8l1.4 1.8l1.3 5.3l-.6 3.6l-1.4 2.1l-1.5 .8l-4.7 -1.1l-2.4 -1.8l-1 -1.8l-.4 -14.2l-.5 -1.8l-3 -4.1l-.8 -3l0 -19.5l.8 -2.9l1.2 -.7zM540.6 260.2l4.3 -1.1l16.5 -.1l7.5 1.9l6 .5l10.5 3.6l1.5 1.2l3.6 15.3l2.4 2.4l6 .8l6.1 1.9l6 .1l6 1.5l12.2 .5l-4.7 1.7l-6 1.5l-5.2 3.9l-9.8 2.4l-10.6 3.2l-6 3.8l-19.5 10.7l-13.5 4l-7.5 1.3l-4.6 .2l-7.5 -.5l-9 -2.1l-4.5 -2.1l-4.9 -4.9l-3 -1.8l-4.1 -1.5l-16.9 -3.9l-4 -1.7l-4.7 -3.2l-3 -1.4l-19.5 -6.5l-5.3 -1.4l-2.2 -1.4l-1.5 -.3l9 -2.4l7.5 -4.2l7.5 -2.2l3 .1l4.5 3.8l1.6 .2l12 -8l15 -6.9l16.5 -6.1l12.3 -2.8zM322.7 301.1l4.3 -1.1l6 0l6 1.8l6 .3l1.4 .8l-.4 1.7l-1 .6l-3 .8l-5.2 2.2l-3.8 .9l-6 2.6l-13.5 .8l-4.6 -.1l-1.2 -.6l.2 -1.8l7.1 -2.8l4.4 -4.3l3.3 -1.8z"/>
<path fill="#1446f0" d="M747.2 208.7l.5 -.9l1.5 -.7l.8 5.2l-.1 3.5l-.7 3l-1.5 -.7l-.8 -2.3l.3 -7.1zM753.7 244.2l1.5 -1.1l.6 1.1l0 1.8l-.6 .5l-1.1 -.5l-.4 -1.8zM541.0 262.0l3.9 -1l16.5 0l15 3.4l7 2.9l2 1.9l1.5 3.5l2.1 8.8l1 1.8l1.4 1.4l1.5 .7l6 1.1l6.1 1.9l6 .3l1.4 1.7l-1.4 2.1l-4.1 3.3l-15.5 4.7l-5.9 4.1l-19.6 10.2l-16.5 4.4l-4.5 .8l-4.6 .1l-7.5 -1.1l-6 -1.9l-3.4 -1.8l-4.3 -3.5l-3.2 -1.8l-7.1 -2.4l-13.5 -3l-4.3 -1.7l-6.2 -4.7l-3.1 -1.7l-19.6 -6.1l-2.1 -1.7l8.2 -4.2l9 -3.1l1.5 .5l4.5 3.8l1.6 .2l28.5 -15.4l9.8 -3.2l6.7 -2.9l11.2 -2.4zM326.4 302.9l6.6 -.1l.8 1.8l-6.8 2.3l-1.5 -1l-.7 -1.3l1.6 -1.7z"/>
<path fill="#3214e6" d="M541.1 263.8l3.8 -.9l18 .1l10.5 2.7l4.5 1.8l3 1.8l3.1 3.4l1.4 2.6l2.6 8l1.3 1.8l2.1 1.4l8.1 2.2l2 1.7l.3 3.6l-1 1.8l-10.9 3.6l-7.2 5.2l-8.2 3.6l-10.1 5.6l-18 4.6l-7.6 .3l-9 -2.4l-12 -6.8l-7.5 -2.4l-11.7 -2.5l-4.3 -1.7l-7.2 -5.4l-2.3 -3.1l-1.6 -1.1l-6 .1l-9.4 -3l-2.4 -1.7l3 -1.8l8.8 -3.3l1.5 .5l4.5 3.6l1.6 .3l9 -4.4l6 -2.4l13.5 -8.8l12 -3.9l6 -3l9.8 -1.7z"/>
<path fill="#6414dc" d="M541.3 265.6l3.6 -.9l18 .1l9 2.6l3.9 1.7l3.6 2.5l2.6 2.8l4.4 10.7l1.3 1.8l2.2 1.2l3 .6l2.6 1.7l.3 3.6l-.9 1.8l-8 2.4l-4.4 4.7l-1.6 1l-9 3.7l-9 5.2l-19.5 4.5l-4.6 -.2l-6 -1.6l-13.5 -6.7l-19.5 -5l-2.3 -.9l-7.1 -5.4l-1.7 -1.7l-1 -5.4l1.1 -1.7l3.5 -2.3l10.5 -4.2l12 -8.6l10.5 -3.3l7.5 -3.6l4.5 -.3l4 -.8zM474.5 286.9l2.7 -.9l1.5 .4l2.6 2.3l-.4 1.7l-2.2 1l-1.5 .1l-3.4 -1.1l-2.5 -1.7l3.2 -1.8z"/>
<path fill="#9614d2" d="M541.1 267.3l3.8 -.9l18 .1l7.5 2.1l4.2 2.3l4.3 3.5l3.1 7.1l2.9 12.5l.1 1.8l-.9 1.7l-2.9 3.6l-1.8 1.2l-9.3 4.1l-7.2 4.7l-8.4 2.4l-11.1 2.3l-4.6 -.4l-4.5 -1.2l-15 -6.6l-18.5 -4.7l-3.4 -3.6l-4.3 -3.5l-.8 -1.8l-.5 -3.6l.7 -1.7l2.7 -1.8l9.1 -3.5l10.5 -7.3l3.2 -1.7l8.8 -2.8l6 -3l8.3 -1.3z"/>
<path fill="#c814c8" d="M539.8 269.1l5.1 -1.1l16.5 -.1l6 1.3l4.5 1.9l3.9 3.3l2.5 5.4l.7 3.5l-.9 5.4l3.1 5.3l.5 1.8l-.7 1.7l-7.6 5.2l-7.5 3.6l-5.3 3.7l-12.2 3.5l-5 .8l-9.1 -1.9l-15 -6l-13.6 -3.5l-2.6 -1.8l-7.1 -8.9l-.7 -1.8l.7 -1.7l8.9 -3.6l8.4 -4.6l6.1 -4.3l13.4 -5.4l7 -1.7z"/>
<path fill="#b41eb4" d="M538.5 270.9l6.4 -1.6l16.5 0l6 1.3l4.1 2.1l1.8 1.7l2.6 7.1l-.2 1.8l-2 5.4l1.2 3.9l1.8 3.2l-1.1 1.7l-3.5 3.6l-1.7 1l-6.6 2.5l-9.2 5.4l-8.2 2.5l-3 .3l-10.6 -2.6l-7.5 -2.5l-6 -2.5l-8.1 -2.3l-2.4 -1.8l-8.3 -10.7l1 -1.7l13.3 -6.6l7.5 -5.2l16.2 -6z"/>
<path fill="#a0148c" d="M543.2 270.9l3.2 -.4l16.5 .2l6 1.9l2.3 1.8l1 1.8l1.5 5.3l-1 3.6l-1.8 3.6l2.6 7.1l-.5 1.7l-1.4 1.8l-2.7 1.8l-9 2.6l-11.2 6.3l-3.8 1.2l-19.6 -4.6l-6 -2.9l-3 -.9l-2.9 -1.7l-1.6 -1.6l-5.3 -9.1l.5 -1.7l4.8 -3.4l6 -2.9l6.1 -4.4l7.4 -2.2l6.4 -3.1l5.5 -1.8z"/>
<path fill="#640a64" d="M541.7 272.7l3.2 -.9l16.5 0l3.9 .9l3.8 1.7l1.3 2.2l1.5 4.9l-1.3 3.6l-2.4 3.6l.5 1.7l2.4 3.6l.6 1.8l-.6 1.7l-2.2 1.9l-8.4 1.7l-5.4 1.8l-10.2 6.2l-19.6 -3.6l-9 -5.6l-2.6 -2.4l-2.4 -3.5l-1.4 -3.6l.2 -1.7l1.7 -1.6l7.5 -3.3l6 -4.8l7.5 -1.7l4.7 -2.9l4.2 -1.7z"/>
<path fill="#4b004b" d="M541.1 274.4l3.8 -1.2l3 -.1l13.5 .1l4.4 1.2l3.1 3.4l1.3 3.7l-.6 1.8l-3.2 3.6l-.8 1.8l.3 1.7l3 3.4l1 2l-.9 1.7l-1.6 .6l-10.5 1.4l-4.5 1.2l-1.5 .6l-4.5 4.2l-1.5 .9l-1.5 .2l-16.9 -2l-2.9 -1.7l-2.8 -3l-3.4 -2.4l-4.1 -4.9l-1 -2.2l.3 -1.7l.7 -.6l7.5 -2.6l4.5 -4.7l1.5 -.7l6 -.7l3 -1l5.3 -4z"/>
</g>
<g clip-path="url(#mc)" fill="none" stroke="#3e003e" color="#3e003e" stroke-width="2.3" stroke-linejoin="round" stroke-linecap="round">
<path d="M736.5 212.0L739.5 211.0L741.5 220.0L743.5 232.0L745.0 242.0L748.5 249.5L755.0 253.0L764.0 252.0L766.0 254.5L758.0 257.0L748.0 256.0L740.0 252.0L735.5 245.0L734.5 234.0Z" fill="currentColor" stroke-width="1"/><path d="M72.0 93.2L70.3 95.5L72.2 100.5L75.6 104.2L77.5 107.1L78.5 110.3L80.4 115.0L81.1 118.7L82.3 124.3L81.9 129.5L79.2 132.4L78.0 138.2L77.5 143.4L79.2 148.3L81.4 153.6L84.0 159.7L85.2 168.7L88.9 176.2L91.0 181.7L93.0 188.4L93.5 192.2L95.4 193.3L97.3 194.2L102.2 192.2L110.9 191.9L115.5 189.6L120.3 184.6L123.9 179.7L127.5 174.5L128.5 168.7L133.6 162.9L134.8 157.0L133.1 150.7L137.2 147.8L143.2 142.5L146.9 136.7L146.9 128.0L146.6 123.7L144.5 116.4L144.0 112.1L143.7 107.7L144.9 104.8L146.9 100.5L149.5 97.6L151.7 94.1L152.9 93.2"/><path d="M168.1 128.0L169.8 132.4L171.0 138.2L169.4 142.5L168.4 146.9L166.2 154.1L164.0 161.4L162.6 165.8L158.2 167.5L155.3 165.8L154.4 161.4L153.6 157.0L156.3 151.2L156.3 145.4L155.3 142.5L160.9 139.1L164.5 135.3L166.9 130.9L168.1 128.0"/><path d="M78.5 110.3L87.7 110.6L91.5 116.7L96.1 113.5L101.7 114.4L101.9 120.8L102.7 125.1L107.0 125.1L107.0 130.9L102.2 130.9L102.2 140.2L105.6 144.3"/><path d="M77.5 143.4L82.8 143.7L93.7 144.0L97.3 145.4L105.3 144.3L109.9 144.9"/><path d="M97.3 145.4L97.3 157.0L97.3 165.2L97.3 175.6L92.5 177.1L88.9 176.2"/><path d="M97.3 165.2L102.2 168.7L109.4 168.1L114.2 162.9L120.0 157.6L115.9 152.7L111.8 148.3L109.9 144.9"/><path d="M109.9 144.9L116.7 141.1L122.5 138.5L128.5 141.7L127.5 148.3L128.8 154.1L124.6 158.2L120.0 157.6"/><path d="M124.6 158.2L126.3 165.8L128.5 171.0"/><path d="M107.0 125.1L110.6 126.6L116.7 129.5L121.0 132.1L119.1 123.7L118.4 117.9L122.7 117.3L128.8 120.8L129.5 125.1L128.8 129.5L128.0 133.8L122.5 138.5"/><path d="M129.5 125.1L132.4 126.6L133.1 132.4L134.3 135.3L135.5 139.6L134.1 142.5L132.4 138.2L128.8 133.8"/><path d="M132.4 126.6L138.4 126.6L146.6 123.7"/><path d="M130.9 96.1L139.9 101.9L144.0 106.6"/><path d="M120.5 93.2L119.8 97.6L119.6 102.8L120.5 107.7L120.3 112.1L122.7 117.3"/><path d="M119.6 103.1L120.3 109.2L120.8 113.5L122.7 117.9L123.9 116.4L122.7 112.1L121.5 107.1L120.0 102.8"/><path d="M126.3 94.1L125.6 97.6L127.1 100.5L130.0 100.2L131.2 96.1L130.0 94.1L126.3 94.1"/><path d="M114.2 178.8L116.7 176.2L119.8 177.4L119.6 180.3L116.7 182.0L114.2 178.8"/><path d="M76.1 99.9L79.2 99.9L80.9 97.6L82.8 96.1L84.0 99.6L82.8 103.4L78.0 106.6L77.5 107.1"/><path d="M91.3 93.2L88.9 98.1L88.2 101.9L86.5 104.8L80.4 106.8L78.5 108.0"/><path d="M287.5 93.2L290.2 96.1L291.6 98.4L293.1 101.0L296.7 104.8L300.3 108.3L302.8 110.0L304.9 109.7L304.7 106.3L305.2 102.5L303.2 99.6L301.5 97.6L299.6 96.1L298.9 94.7L299.6 93.2"/><path d="M303.2 112.9L305.2 110.3L310.0 111.5L315.8 113.2L321.4 113.2L325.5 115.5L325.7 118.4L319.7 117.6L314.8 116.4L310.0 115.8L306.4 114.4L303.2 112.9"/><path d="M326.9 117.3L328.6 118.4L326.9 118.7L326.9 117.3"/><path d="M329.3 117.6L331.8 117.6L336.6 117.0L336.6 118.7L331.8 119.3L329.3 119.0L329.3 117.6"/><path d="M338.5 117.9L341.4 117.3L346.2 117.3L345.0 118.4L341.4 119.0L338.5 118.7L338.5 117.9"/><path d="M336.6 120.5L340.9 121.4L339.7 123.1L336.6 121.6L336.6 120.5"/><path d="M347.5 122.8L351.1 119.9L356.6 117.6L353.5 119.0L348.7 122.2L347.5 122.8"/><path d="M312.4 93.2L313.6 97.6L315.3 101.9L318.5 101.9L322.1 102.5L325.7 104.8L329.3 104.2L330.5 100.5L331.3 97.6L333.0 94.7L333.2 93.2"/><path d="M338.3 93.2L337.3 97.6L336.1 101.9L337.8 104.8L337.6 109.2L340.0 109.5L340.0 101.9L341.4 101.0L342.6 104.8L343.8 107.1L346.7 106.8L345.0 103.4L343.8 101.9L342.1 98.7L345.0 97.0L347.0 95.8L342.6 95.8L340.4 94.9L339.5 93.2"/><path d="M353.5 102.5L356.4 102.5L355.9 104.2L353.5 103.6L353.5 102.5"/><path d="M358.3 101.6L363.2 101.6L365.1 103.1L360.8 103.4L358.3 102.8L358.3 101.6"/><path d="M365.6 95.8L368.0 94.1L372.8 95.8L373.8 100.7L376.5 102.8L381.3 97.6L387.3 100.2L389.8 100.7L395.8 103.1L398.2 104.2L401.4 108.6L405.5 111.2L406.2 112.6L404.2 115.0L406.7 116.4L410.3 120.8L413.2 122.8L410.3 123.1L405.5 122.5L401.8 117.9L398.2 115.0L395.8 117.9L393.4 119.9L389.8 119.6L384.9 116.7L382.5 117.6L381.8 114.1L383.7 112.1L382.5 109.2L375.2 106.3L371.6 104.8L369.9 103.4L368.0 101.6L370.4 100.5L368.0 98.4L365.6 97.0L365.6 95.8"/><path d="M389.8 100.7L389.8 111.5L390.2 113.2L389.8 119.6"/><path d="M407.9 109.2L411.5 108.3L415.1 106.3L416.8 105.4L415.9 109.2L412.7 110.6L409.1 110.9L407.4 109.7L407.9 109.2"/><path d="M413.4 100.7L416.3 102.5L418.3 106.3L419.0 107.1"/><path d="M422.6 107.7L424.8 110.6L425.8 113.2L424.1 112.4L422.6 107.7"/><path d="M434.7 120.2L437.6 121.1L436.9 121.9L435.2 121.4L434.7 120.2"/><path d="M437.1 117.6L439.3 120.5L438.6 121.1L437.1 117.6"/><path d="M438.8 122.8L441.2 124.0L440.5 124.5L438.8 122.8"/><path d="M431.6 116.1L435.2 118.2L434.7 118.7L431.6 116.1"/><path d="M428.4 116.4L430.8 117.6L429.6 118.2L428.4 116.4"/><path d="M451.6 135.9L453.1 137.6L452.8 139.1L451.6 137.9L451.6 135.9"/><path d="M453.1 139.6L454.5 140.8L453.8 141.4L453.1 139.6"/><path d="M455.2 144.3L456.4 144.3L456.2 145.1L455.2 144.3"/><path d="M457.4 147.5L458.4 148.3L458.4 150.1L457.4 147.5"/><path d="M445.3 151.8L449.0 154.1L452.1 157.0L452.6 158.2L450.9 157.9L446.5 154.1L445.3 151.8"/><path d="M477.5 144.3L479.2 143.4L480.6 144.9L479.9 146.0L477.7 145.7L477.5 144.3"/><path d="M480.4 141.1L482.8 140.5L484.0 141.4L481.6 142.2L480.4 141.1"/><path d="M393.4 124.3L395.8 129.5L396.5 133.8L400.1 136.4L400.6 141.1L402.6 148.1L407.9 151.8L410.3 157.9L413.4 158.5L415.1 162.9L419.2 167.2L420.2 174.5L418.8 183.2L417.5 187.5L414.6 191.6L412.0 197.1L411.5 202.0L407.4 202.9L402.6 206.7L399.4 204.6L397.7 204.4L395.8 205.8L391.0 204.6L387.3 202.0L386.6 199.1L385.6 196.5L383.7 196.5L383.5 194.5L382.7 192.5L382.0 189.3L381.1 192.7L380.1 194.5L377.7 194.2L376.7 194.2L376.0 191.6L373.3 188.4L368.0 186.1L360.8 185.2L353.5 186.9L348.7 189.0L343.8 191.9L339.0 191.9L334.2 194.8L329.3 194.8L326.9 192.7L328.4 190.4L328.8 186.1L326.9 180.3L325.9 175.9L323.3 170.1L323.8 164.3L323.3 160.0L324.5 157.0L331.0 153.0L335.4 152.1L341.4 149.8L344.6 144.0L347.5 141.1L349.9 138.2L353.5 133.8L357.1 133.8L360.8 136.4L362.0 132.4L364.4 129.2L368.0 126.0L370.4 127.4L375.2 128.9L378.9 128.0L379.6 130.9L377.7 133.8L376.5 136.7L380.1 139.6L384.9 143.4L389.3 143.7L391.0 136.7L391.2 130.9L392.2 125.1L393.4 124.3"/><path d="M398.7 211.3L401.8 212.2L406.7 211.9L407.4 215.1L406.4 218.6L403.8 219.7L401.6 218.9L399.9 215.7L398.7 211.3"/><path d="M379.1 196.8L381.5 196.5L382.7 197.1L380.1 197.7L379.1 196.8"/><path d="M466.4 193.0L469.5 195.6L471.4 200.0L474.1 201.7L480.4 202.6L478.9 207.0L476.5 208.1L474.8 211.0L472.6 213.9L470.9 212.8L471.4 209.3L469.0 207.0L470.9 204.9L471.2 201.7L469.3 198.8L466.4 193.0"/><path d="M466.4 210.7L470.0 213.1L468.5 217.1L466.4 220.3L462.7 222.3L461.5 226.4L458.1 228.4L454.0 227.3L451.4 225.3L455.7 220.9L461.0 218.0L463.5 214.5L464.9 211.9L466.4 210.7"/><path d="M453.8 229.0L455.5 229.3L455.0 230.2L453.8 229.0"/><path d="M725.2 93.2L724.5 94.7L723.5 99.0L725.4 100.5L723.2 103.4L722.8 106.3L723.0 109.2L724.5 112.1L726.9 116.4L729.3 122.2L732.4 128.0L735.3 133.8L739.0 138.2L745.0 142.5L749.1 146.9L749.4 154.1L748.6 161.4L748.6 168.7L746.5 177.4L746.2 183.2L745.7 189.0L745.0 194.8L742.1 199.1L741.6 203.5L741.6 209.3L740.6 215.1L741.4 219.4L738.2 223.8L739.0 229.6L737.3 234.0L736.5 239.8L738.5 244.1L741.4 248.5L745.0 249.3L748.6 248.5L751.0 246.4L753.9 245.0L752.2 241.2L751.5 238.3L755.9 234.0L759.5 229.6L755.9 226.7L755.9 223.8L760.7 220.9L761.9 216.5L763.1 212.2L768.4 211.6L768.4 206.4L780.0 205.5L782.0 200.6L780.3 197.7L775.2 195.6L778.8 193.9L784.9 191.9L789.7 186.1L793.3 180.3L795.8 174.5L798.2 170.1L801.8 165.8L806.6 162.3L815.1 160.0L818.7 157.0L821.1 151.2L824.3 145.4L824.8 139.6L824.8 133.8L826.0 130.9L828.4 129.5L829.6 125.1L832.0 119.3L834.4 116.4L834.9 110.6L833.2 108.3L829.6 106.3L826.0 103.4L821.1 101.3L816.3 100.5L812.7 99.9L807.8 97.6L803.0 96.1L800.6 94.7L799.4 93.2"/><path d="M753.5 246.1L757.1 245.9L760.7 248.5L763.1 251.7L759.5 252.8L754.7 252.8L751.0 251.4L748.6 249.9L751.0 247.6L753.5 246.1"/><path d="M772.8 242.4L775.2 242.1L778.4 243.5L776.4 244.7L773.5 244.1L772.8 242.4"/><path d="M751.3 144.0L753.0 148.3L754.2 154.1L756.6 159.4L754.7 164.3L753.5 171.6L751.0 175.9L749.8 183.2L749.8 189.0L749.4 194.8L747.4 202.0L746.5 209.3L745.7 215.1L745.7 220.9L745.7 226.7L743.8 232.5L742.6 238.3L745.0 242.7L749.8 244.1L753.5 245.0"/><path d="M751.3 144.0L751.0 139.6L752.2 136.7L751.5 130.9L752.2 125.1"/><path d="M752.2 125.1L759.5 122.2L761.9 129.5L766.8 133.8L772.8 140.5L778.8 144.0L778.8 149.8"/><path d="M778.8 149.8L768.7 151.2L768.0 157.0L763.1 157.6L757.1 157.0L756.6 159.4"/><path d="M768.0 157.0L774.0 162.9L780.0 167.2L784.9 172.4L787.3 170.1L787.3 167.2"/><path d="M778.8 149.8L779.3 157.0L784.9 161.4L787.0 162.9L787.3 167.2"/><path d="M787.3 167.2L789.7 168.7L788.5 172.1L784.9 175.9L780.0 180.8"/><path d="M780.0 180.8L784.9 182.6L789.7 186.1L789.7 191.0"/><path d="M780.0 180.8L778.4 187.5L777.9 191.9"/><path d="M752.2 125.1L748.6 122.2L742.6 119.3L741.4 115.0L740.2 107.7L745.0 105.7L750.1 105.4"/><path d="M724.9 103.1L725.7 106.3L728.1 107.1L730.5 104.8L732.9 101.9L735.3 100.5L737.8 97.6L736.8 95.5L735.3 94.1"/><path d="M829.6 250.5L833.2 251.7L832.0 252.5L829.6 250.5"/><path d="M49.0 300.0L57.9 298.1L68.2 296.8L78.5 296.8L87.6 296.1L96.6 296.5L105.6 297.8L117.3 296.5L126.3 294.2L131.5 291.9L135.3 292.9L140.5 295.2L144.4 295.5L148.2 292.3L154.7 290.3L162.4 288.8L166.5 288.1L172.9 284.9L181.9 284.3L188.4 287.2L198.7 288.5L209.0 289.0L217.4 289.8L218.1 293.9L214.2 297.2L212.9 302.3L216.8 301.9L224.5 297.8L234.8 293.9L241.3 290.1L250.3 288.1L263.2 285.9L273.5 284.9L282.7 285.4L291.8 284.5L298.2 283.2L304.7 284.8L312.4 286.7L317.6 284.5L322.7 283.7L326.6 285.4L331.8 287.4L339.5 287.6L347.3 286.7L353.7 285.4L358.9 287.4L364.0 285.4L373.1 284.5L374.4 281.5L375.6 284.5L384.7 285.8L395.0 287.4L400.3 288.4L410.6 291.6L422.3 292.9L432.6 295.5L444.2 297.4L454.5 298.7L461.0 301.3L459.7 305.8L451.9 307.7L444.2 310.3L441.6 314.2L444.2 317.4L451.9 318.7L458.4 318.1L450.6 321.3L440.3 322.6L432.6 325.8L436.5 329.0L444.2 332.3L454.5 334.8L467.4 336.8L480.3 338.1L493.2 338.7L500.0 338.1L512.9 339.0L525.8 340.0L538.7 340.6L551.6 341.0L558.1 340.0L571.0 339.7L583.9 340.0"/><path d="M556.8 338.7L550.3 336.1L549.0 332.3L551.6 330.3L543.9 329.0L540.0 328.6L542.6 328.4L558.1 327.7L567.1 326.5L564.5 324.5L554.2 323.2L543.9 321.3L538.7 319.4L537.4 316.8L543.9 316.8L554.2 314.8L564.5 312.9L577.4 311.6L590.3 309.7L603.2 308.4L613.5 307.1L620.0 306.5L625.3 308.0L638.2 308.2L651.1 310.2L660.2 311.5L670.5 311.5L678.2 310.8L675.6 307.6L670.5 304.4L676.9 302.4L687.3 303.1L698.9 304.4L712.9 306.5L725.8 305.9L736.1 300.7L745.2 294.3L754.2 289.1L761.9 282.6L769.7 276.8L777.4 274.3L785.2 276.2L777.4 278.8L767.1 283.9L761.9 289.1L768.4 294.3L772.3 300.7L771.0 307.2L764.5 311.0L751.6 314.3L738.7 314.9L731.0 313.6L729.7 314.9L736.1 317.5L742.6 318.8"/><path d="M716.8 320.7L727.0 322.0L738.7 324.0L755.0 325.0L772.0 327.0L788.0 328.5L810.0 330.1L822.4 328.3L834.7 326.4L847.1 324.6L853.3 322.1L840.9 321.5L832.3 321.5L834.7 318.4L847.1 315.9L859.5 314.1L869.4 312.8L875.5 311.6L879.2 307.9L886.7 304.8L891.6 301.1L899.0 299.2L906.5 298.6L912.6 298.6L919.0 300.0"/><path d="M790.0 327.5L798.1 322.6L809.7 320.1L813.5 324.0L803.2 326.5L790.0 327.5"/><path d="M523.5 322.5L528.0 321.2L534.5 322.3L530.0 324.3L524.5 324.0L523.5 322.5"/><path d="M554.0 314.5L560.0 312.9L568.0 312.4L568.0 315.5L560.0 317.5L554.0 317.0L554.0 314.5"/><path d="M733.5 299.4L738.7 295.5L746.5 293.0L754.2 294.3L756.8 300.7L751.6 304.6L742.6 303.3L734.8 302.0L733.5 299.4"/><path d="M745.0 296.0L751.6 287.8L755.5 285.2L760.6 281.4L767.1 277.5L772.3 274.9L778.7 273.6L785.2 276.2"/><path d="M441.6 285.2L443.5 286.5"/><path d="M660.0 306.0L668.0 305.5L672.0 307.5L664.0 308.5L660.0 306.0"/><path d="M560.9 135.3h0.01M562.5 137.3h0.01M564.2 136.2h0.01M566.2 138.5h0.01M567.4 140.5h0.01M569.8 139.6h0.01M571.0 142.5h0.01M572.9 144.3h0.01M574.6 146.3h0.01M576.3 148.3h0.01M578.2 147.2h0.01M579.5 151.2h0.01M581.9 153.6h0.01M584.3 155.6h0.01M563.8 141.1h0.01M568.6 145.4h0.01M562.5 144.0h0.01M558.9 142.0h0.01M188.0 152.1h0.01M183.1 154.4h0.01M153.9 127.2h0.01M183.1 106.6h0.01M224.0 114.4h0.01M217.0 236.3h0.01M218.2 235.4h0.01M174.2 227.9h0.01M140.3 229.3h0.01M226.6 247.3h0.01M57.2 251.1h0.01M889.3 200.9h0.01M895.1 210.2h0.01M905.2 139.3h0.01M884.2 116.1h0.01M840.7 104.5h0.01M848.2 152.7h0.01M855.0 260.1h0.01M811.0 269.4h0.01M776.4 273.7h0.01M433.0 251.7h0.01M450.4 240.3h0.01M457.7 245.6h0.01M433.5 184.6h0.01M455.0 177.4h0.01M282.9 128.6h0.01M304.4 123.7h0.01M654.6 171.9h0.01M728.6 190.7h0.01M700.3 94.7h0.01M604.6 166.0h0.01M581.9 119.3h0.01M583.1 122.2h0.01M568.6 136.7h0.01M573.4 141.1h0.01M578.2 144.0h0.01M585.5 145.4h0.01M590.3 149.8h0.01M561.3 139.6h0.01M557.7 144.0h0.01M556.0 144.6h0.01M557.7 160.0h0.01M561.3 158.5h0.01M532.8 154.7h0.01M534.8 148.3h0.01M502.6 133.3h0.01M507.0 134.4h0.01M495.6 154.7h0.01M497.3 147.2h0.01M508.4 148.3h0.01M493.2 131.8h0.01M482.1 117.9h0.01M504.5 103.4h0.01M555.3 104.8h0.01M556.5 122.2h0.01M492.5 220.9h0.01M447.8 127.2h0.01M459.8 139.6h0.01M462.2 148.3h0.01M475.5 122.2h0.01M423.6 149.8h0.01M435.7 126.6h0.01M450.2 123.7h0.01M471.9 157.0h0.01M491.2 146.9h0.01M498.5 136.7h0.01M522.7 149.8h0.01M527.5 155.6h0.01M544.4 151.2h0.01M539.6 142.5h0.01M568.6 161.4h0.01M595.2 157.0h0.01M609.7 162.9h0.01" stroke-width="2.4"/>
</g>
<rect x="620" y="95.8" width="296" height="23.2" fill="#fff"/>
<line x1="44" y1="93.1" x2="919.3" y2="93.1" stroke="#3e003e" stroke-width="1.9"/>
<line x1="49" y1="354.6" x2="919.3" y2="354.6" stroke="#3e003e" stroke-width="1.3"/>
<path d="M44.3 93.2H49M44.3 122.2H49M44.3 151.2H49M44.3 180.3H49M44.3 209.3H49M44.3 238.3H49M44.3 267.3H49M44.3 296.4H49M44.3 325.4H49M44.3 354.4H49M49.0 354.4V359M194.0 354.4V359M339.0 354.4V359M484.0 354.4V359M629.0 354.4V359M774.0 354.4V359M919.0 354.4V359" stroke="#000" stroke-width="1.2" fill="none"/>
<g fill="#000" font-family="'Liberation Sans', sans-serif">
<text x="53.6" y="89.4" font-size="12.7" textLength="309.0" lengthAdjust="spacingAndGlyphs">Recurring Rossby Wave Train : consonantchaos.com</text>
<text x="899.3" y="89.4" font-size="12.7" text-anchor="end" textLength="130.0" lengthAdjust="spacingAndGlyphs">Frequency : 92 52 285</text>
<text x="625.9" y="108.7" font-size="13.7" textLength="287.0" lengthAdjust="spacing" class="g">NOAA Physical Sciences Laboratory</text>
<text x="40.0" y="98.9" font-size="15.6" text-anchor="end" textLength="17.5" lengthAdjust="spacingAndGlyphs" class="g">EQ</text>
<text x="40.0" y="127.9" font-size="15.6" text-anchor="end" textLength="26.0" lengthAdjust="spacingAndGlyphs" class="g">10S</text>
<text x="40.0" y="156.9" font-size="15.6" text-anchor="end" textLength="26.0" lengthAdjust="spacingAndGlyphs" class="g">20S</text>
<text x="40.0" y="186.0" font-size="15.6" text-anchor="end" textLength="26.0" lengthAdjust="spacingAndGlyphs" class="g">30S</text>
<text x="40.0" y="215.0" font-size="15.6" text-anchor="end" textLength="26.0" lengthAdjust="spacingAndGlyphs" class="g">40S</text>
<text x="40.0" y="244.0" font-size="15.6" text-anchor="end" textLength="26.0" lengthAdjust="spacingAndGlyphs" class="g">50S</text>
<text x="40.0" y="273.0" font-size="15.6" text-anchor="end" textLength="26.0" lengthAdjust="spacingAndGlyphs" class="g">60S</text>
<text x="40.0" y="302.1" font-size="15.6" text-anchor="end" textLength="26.0" lengthAdjust="spacingAndGlyphs" class="g">70S</text>
<text x="40.0" y="331.1" font-size="15.6" text-anchor="end" textLength="26.0" lengthAdjust="spacingAndGlyphs" class="g">80S</text>
<text x="40.0" y="360.1" font-size="15.6" text-anchor="end" textLength="26.0" lengthAdjust="spacingAndGlyphs" class="g">90S</text>
<text x="49.0" y="374.0" font-size="15.6" text-anchor="middle" textLength="7.0" lengthAdjust="spacingAndGlyphs" class="g">0</text>
<text x="194.0" y="374.0" font-size="15.6" text-anchor="middle" textLength="25.2" lengthAdjust="spacingAndGlyphs" class="g">60E</text>
<text x="339.0" y="374.0" font-size="15.6" text-anchor="middle" textLength="33.5" lengthAdjust="spacingAndGlyphs" class="g">120E</text>
<text x="484.0" y="374.0" font-size="15.6" text-anchor="middle" textLength="25.2" lengthAdjust="spacingAndGlyphs" class="g">180</text>
<text x="629.0" y="374.0" font-size="15.6" text-anchor="middle" textLength="35.5" lengthAdjust="spacingAndGlyphs" class="g">120W</text>
<text x="774.0" y="374.0" font-size="15.6" text-anchor="middle" textLength="27.5" lengthAdjust="spacingAndGlyphs" class="g">60W</text>
<text x="919.0" y="374.0" font-size="15.6" text-anchor="middle" textLength="7.0" lengthAdjust="spacingAndGlyphs" class="g">0</text>
<text x="483.8" y="402.6" font-size="19.5" text-anchor="middle" textLength="744.0" lengthAdjust="spacing" class="g">Surface Air Temperature (K) Composite Anomaly (1991−2020 Climatology)</text>
<text x="484.2" y="423.2" font-size="19.5" text-anchor="middle" textLength="662.8" lengthAdjust="spacing" class="g">Initialized: 20251025 (RRWT 2630d) Valid: 20251120 to 20251124</text>
<text x="482.4" y="454.4" font-size="13.4" text-anchor="middle" textLength="167.5" lengthAdjust="spacing" class="g">NCEP/NCAR Reanalysis</text>
<text x="171.4" y="492.0" font-size="14.7" text-anchor="middle" textLength="20.5" lengthAdjust="spacingAndGlyphs" class="g">−6</text>
<text x="223.6" y="492.0" font-size="14.7" text-anchor="middle" textLength="20.5" lengthAdjust="spacingAndGlyphs" class="g">−5</text>
<text x="275.9" y="492.0" font-size="14.7" text-anchor="middle" textLength="20.5" lengthAdjust="spacingAndGlyphs" class="g">−4</text>
<text x="328.1" y="492.0" font-size="14.7" text-anchor="middle" textLength="20.5" lengthAdjust="spacingAndGlyphs" class="g">−3</text>
<text x="380.4" y="492.0" font-size="14.7" text-anchor="middle" textLength="20.5" lengthAdjust="spacingAndGlyphs" class="g">−2</text>
<text x="432.6" y="492.0" font-size="14.7" text-anchor="middle" textLength="20.5" lengthAdjust="spacingAndGlyphs" class="g">−1</text>
<text x="483.6" y="492.0" font-size="14.7" text-anchor="middle" textLength="7.5" lengthAdjust="spacingAndGlyphs" class="g">0</text>
<text x="535.9" y="492.0" font-size="14.7" text-anchor="middle" textLength="7.5" lengthAdjust="spacingAndGlyphs" class="g">1</text>
<text x="588.1" y="492.0" font-size="14.7" text-anchor="middle" textLength="7.5" lengthAdjust="spacingAndGlyphs" class="g">2</text>
<text x="640.4" y="492.0" font-size="14.7" text-anchor="middle" textLength="7.5" lengthAdjust="spacingAndGlyphs" class="g">3</text>
<text x="692.6" y="492.0" font-size="14.7" text-anchor="middle" textLength="7.5" lengthAdjust="spacingAndGlyphs" class="g">4</text>
<text x="744.8" y="492.0" font-size="14.7" text-anchor="middle" textLength="7.5" lengthAdjust="spacingAndGlyphs" class="g">5</text>
<text x="797.1" y="492.0" font-size="14.7" text-anchor="middle" textLength="7.5" lengthAdjust="spacingAndGlyphs" class="g">6</text>
</g>
<path d="M145.2 468.8L170.2 461.3V476.3Z" fill="#4b004b" stroke="#000" stroke-width="1.2"/><rect x="170.2" y="461.3" width="26.12" height="15.0" fill="#640a64" stroke="#000" stroke-width="1.2"/><rect x="196.3" y="461.3" width="26.12" height="15.0" fill="#a0148c" stroke="#000" stroke-width="1.2"/><rect x="222.4" y="461.3" width="26.12" height="15.0" fill="#b41eb4" stroke="#000" stroke-width="1.2"/><rect x="248.6" y="461.3" width="26.12" height="15.0" fill="#c814c8" stroke="#000" stroke-width="1.2"/><rect x="274.7" y="461.3" width="26.12" height="15.0" fill="#9614d2" stroke="#000" stroke-width="1.2"/><rect x="300.8" y="461.3" width="26.12" height="15.0" fill="#6414dc" stroke="#000" stroke-width="1.2"/><rect x="326.9" y="461.3" width="26.12" height="15.0" fill="#3214e6" stroke="#000" stroke-width="1.2"/><rect x="353.0" y="461.3" width="26.12" height="15.0" fill="#1446f0" stroke="#000" stroke-width="1.2"/><rect x="379.2" y="461.3" width="26.12" height="15.0" fill="#1473c8" stroke="#000" stroke-width="1.2"/><rect x="405.3" y="461.3" width="26.12" height="15.0" fill="#1496e1" stroke="#000" stroke-width="1.2"/><rect x="431.4" y="461.3" width="26.12" height="15.0" fill="#00ffff" stroke="#000" stroke-width="1.2"/><rect x="457.5" y="461.3" width="26.12" height="15.0" fill="#ffffff" stroke="#000" stroke-width="1.2"/><rect x="483.6" y="461.3" width="26.12" height="15.0" fill="#ffffff" stroke="#000" stroke-width="1.2"/><rect x="509.8" y="461.3" width="26.12" height="15.0" fill="#32d600" stroke="#000" stroke-width="1.2"/><rect x="535.9" y="461.3" width="26.12" height="15.0" fill="#8cdc00" stroke="#000" stroke-width="1.2"/><rect x="562.0" y="461.3" width="26.12" height="15.0" fill="#b4dc00" stroke="#000" stroke-width="1.2"/><rect x="588.1" y="461.3" width="26.12" height="15.0" fill="#d2dc00" stroke="#000" stroke-width="1.2"/><rect x="614.2" y="461.3" width="26.12" height="15.0" fill="#f5d700" stroke="#000" stroke-width="1.2"/><rect x="640.4" y="461.3" width="26.12" height="15.0" fill="#ffff00" stroke="#000" stroke-width="1.2"/><rect x="666.5" y="461.3" width="26.12" height="15.0" fill="#ffc400" stroke="#000" stroke-width="1.2"/><rect x="692.6" y="461.3" width="26.12" height="15.0" fill="#ffa000" stroke="#000" stroke-width="1.2"/><rect x="718.7" y="461.3" width="26.12" height="15.0" fill="#ff8200" stroke="#000" stroke-width="1.2"/><rect x="744.8" y="461.3" width="26.12" height="15.0" fill="#ff5a00" stroke="#000" stroke-width="1.2"/><rect x="771.0" y="461.3" width="26.12" height="15.0" fill="#fa0000" stroke="#000" stroke-width="1.2"/><path d="M797.1 461.3L823.8 468.8L797.1 476.3Z" fill="#c80000" stroke="#000" stroke-width="1.2"/>
</svg>
</body></html>
